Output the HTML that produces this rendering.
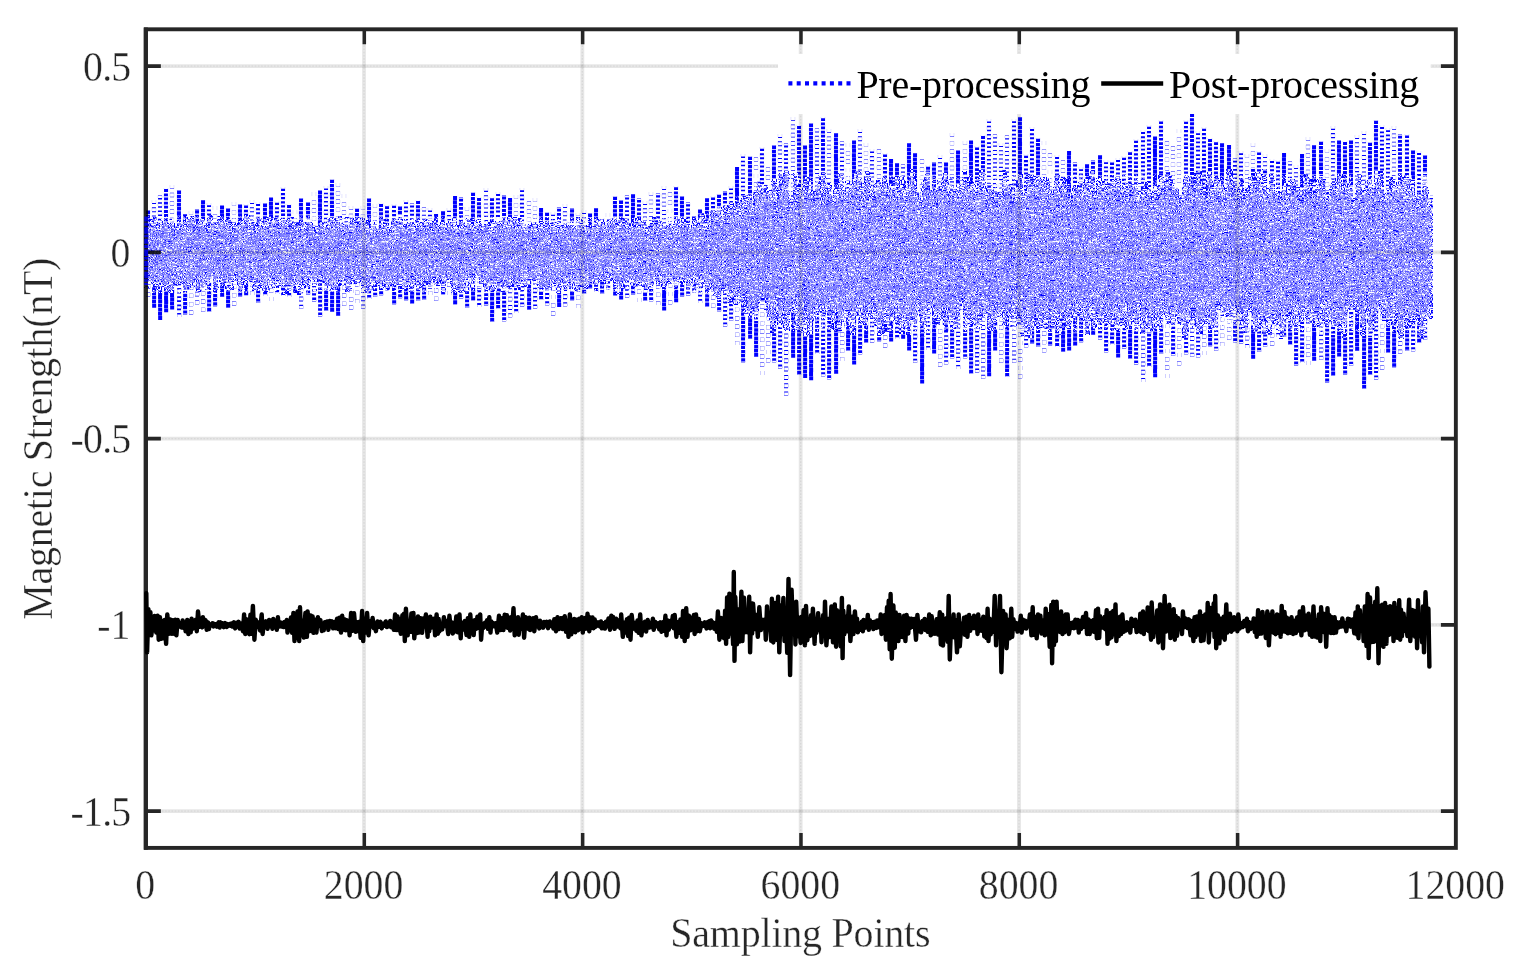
<!DOCTYPE html>
<html lang="en"><head><meta charset="utf-8"><title>Magnetic Strength - Pre-processing vs Post-processing</title>
<style>html,body{margin:0;padding:0;background:#fff;overflow:hidden}body{width:1518px;height:967px}.x path{mix-blend-mode:difference}.x .n{mix-blend-mode:normal}</style>
</head><body>
<svg width="1518" height="967" viewBox="0 0 1518 967" style="display:block">
<rect width="1518" height="967" fill="#fff"/>
<g stroke="#262626" stroke-opacity=".115" stroke-width="3.8" fill="none"><path d="M364.02 29.30V847.90M582.35 29.30V847.90M800.67 29.30V847.90M1019.00 29.30V847.90M1237.32 29.30V847.90"/><path d="M145.90 66.10H1455.85M145.90 252.35H1455.85M145.90 438.60H1455.85M145.90 624.85H1455.85M145.90 811.10H1455.85"/>
<g stroke-opacity=".07" stroke-width="1.3" stroke-dasharray="1.6 1.6"><path d="M364.02 29.30V847.90M582.35 29.30V847.90M800.67 29.30V847.90M1019.00 29.30V847.90M1237.32 29.30V847.90"/><path d="M145.90 66.10H1455.85M145.90 252.35H1455.85M145.90 438.60H1455.85M145.90 624.85H1455.85M145.90 811.10H1455.85"/></g></g>
<rect x="145.90" y="29.30" width="1309.95" height="818.60" fill="none" stroke="#262626" stroke-width="3.9"/>
<path d="M145.75 27.45V849.75" fill="none" stroke="#262626" stroke-width="4.2"/>
<path d="M364.32 847.90v-14.95M364.32 29.30v14.95M582.65 847.90v-14.95M582.65 29.30v14.95M800.97 847.90v-14.95M800.97 29.30v14.95M1019.30 847.90v-14.95M1019.30 29.30v14.95M1237.62 847.90v-14.95M1237.62 29.30v14.95" stroke="#262626" stroke-width="3.5" fill="none"/>
<path d="M145.90 66.10h14.95M1455.85 66.10h-14.95M145.90 252.35h14.95M1455.85 252.35h-14.95M145.90 438.60h14.95M1455.85 438.60h-14.95M145.90 624.85h14.95M1455.85 624.85h-14.95M145.90 811.10h14.95M1455.85 811.10h-14.95" stroke="#262626" stroke-width="3.9" fill="none"/>
<g class="x" fill="none" stroke="#ffff00" stroke-width="4" style="isolation:isolate;mix-blend-mode:multiply">
<rect x="140" y="100" width="1300" height="310" fill="#fff" stroke="none"/>
<g>
<path stroke-dasharray="4 4" d="M146 227v61m4 -10v-53m4 -6v58m4 12v-60m4 -4v61m5 2v-66m4 7v62m4 -15v-43m4 -11v54m4 7v-50m4 -5v62m5 -8v-66m4 15v45m4 16v-71m4 8v54m4 -4v-48m4 -8v50m4 19v-60m5 -12v52m4 7v-55m4 -7v74m4 -13v-51m4 -1v54m4 11v-63m4 -6v51m5 2v-50m4 3v54m4 -1v-63m4 12v47m4 7v-65m4 7v50m4 3v-51m5 1v54m4 -4v-52m4 2v64m4 -6v-59m4 1v47m4 8v-50m5 -12v56m4 8v-62m4 10v48m4 -3v-49m4 -10v57m4 2v-45m4 -8v56m5 0v-59m4 7v51m4 -6v-50m4 3v49m4 13v-55m4 -9v55m4 -2v-50m5 -7v56m4 1v-49m4 -3v55m4 0v-56m4 8v50m4 -2v-50m4 -4v59m5 -1v-54m4 -2v49m4 -1v-60m4 10v45m4 5v-46m4 -8v68m5 -17v-42m4 -6v51m4 3v-52m4 -7v58m4 -7v-43m4 1v44m4 5v-51m5 -4v60m4 -4v-60m4 9v62m4 -8v-58m4 6v55m4 -9v-44m4 -14v60m5 -8v-39m4 -11v53m4 6v-52m4 -3v62m4 -4v-56m4 4v44m4 14v-67m5 4v55m4 10v-68m4 1v54m4 -1v-61m4 10v49m4 6v-48m5 -8v56m4 -5v-52m4 6v46m4 4v-50m4 -2v57m4 -7v-49m4 3v43m5 -1v-53m4 11v53m4 -7v-49m4 -4v63m4 -7v-57m4 2v63m4 -4v-61m5 7v55m4 -8v-54m4 9v42m4 -2v-53m4 10v43m4 8v-60m4 9v41m5 5v-61m4 12v61m4 -13v-56m4 16v42m4 2v-48m4 -6v64m5 -4v-67m4 2v64m4 -6v-47m4 0v53m4 -6v-44m4 -14v53m4 4v-46m5 -8v53m4 -5v-39m4 -1v51m4 -2v-55m4 -1v57m4 3v-57m4 0v53m5 3v-62m4 -9v68m4 -2v-50m4 -7v56m4 6v-73m4 1v88m4 -7v-78m5 -10v75m4 8v-85m4 6v95m4 -9v-81m4 1v87m4 -9v-87m5 -9v118m4 -13v-108m4 0v104m4 -2v-110m4 13v115m4 19v-143m4 23v82m5 29v-140m4 -10v136m4 -1v-100m4 1v94m4 2v-102m4 -2v105m4 -7v-111m5 3v128m4 0v-125m4 -12v111m4 26v-122m4 -14v109m4 5v-102m4 0v115m5 -10v-108m4 8v104m4 7v-124m4 17v103m4 0v-125m4 -7v121m5 21v-134m4 -7v129m4 -8v-103m4 -12v143m4 -9v-116m4 -23v135m4 9v-138m5 6v120m4 1v-130m4 19v134m4 -17v-107m4 -24v128m4 -9v-124m4 24v95m5 17v-109m4 -33v136m4 -5v-101m4 3v100m4 17v-131m4 13v104m4 19v-149m5 16v117m4 -3v-115m4 5v107m4 -13v-105m4 17v121m4 -15v-131m5 21v126m4 -1v-149m4 16v114m4 5v-114m4 -3v134m4 -27v-109m4 12v93m5 1v-129m4 25v106m4 18v-124m4 -2v112m4 9v-134m4 27v101m4 24v-148m5 12v128m4 -10v-134m4 8v138m4 1v-133m4 -3v108m4 28v-139m4 23v103m5 -4v-121m4 7v128m4 -22v-108m4 -5v114m4 4v-116m4 2v118m5 22v-153m4 -6v121m4 14v-110m4 1v114m4 -22v-95m4 -3v119m4 -4v-127m5 3v132m4 -18v-92m4 -9v100m4 25v-122m4 -22v125m4 15v-126m4 -1v106m5 2v-120m4 27v107m4 -11v-108m4 -1v128m4 -10v-121m4 -10v134m4 1v-140m5 11v123m4 -4v-110m4 8v106m4 -3v-134m4 35v110m4 -10v-113m5 -26v160m4 -14v-113m4 -3v116m4 9v-138m4 12v112m4 -11v-116m4 7v120m5 -9v-127m4 6v127m4 -5v-112m4 8v101m4 16v-123m4 3v104m4 16v-131m5 -14v149m4 -5v-142m4 34v108m4 19v-135m4 -10v130m4 -12v-116m4 18v107m5 -9v-96m4 -17v123m4 -25v-109m4 24v100m4 -3v-98m4 -9v114m5 1v-122m4 7v124m4 -15v-117m4 -11v142m4 -17v-109m4 0v117m4 8v-128m5 -18v157m4 -20v-107m4 -11v115m4 4v-105m4 -15v106m4 19v-121m4 12v90m5 26v-137m4 21v114m4 -20v-121m4 30v98m4 10v-126m4 6v105m5 -12v-99m4 -11v150m4 -5v-143m4 6v122m4 7v-125m4 18v105m4 -11v-96m5 -6v123m4 -11v-108"/>
<path stroke-dasharray="4 5" stroke-dashoffset="0.15" d="M146 288v-54m4 -9v51m4 1v-60m5 12v61m4 -4v-62m4 -2v67m4 2v-68m4 10v43m4 0v-46m4 3v46m5 11v-65m4 -9v73m4 -13v-48m4 -7v57m4 5v-60m4 8v50m4 -8v-40m5 -1v48m4 -8v-46m4 -2v58m4 9v-64m4 0v50m4 3v-54m5 2v51m4 -6v-56m4 8v56m4 1v-54m4 -10v60m4 -1v-50m4 -8v72m5 -15v-54m4 6v53m4 2v-55m4 -1v49m4 17v-62m4 -3v57m4 -9v-46m5 4v53m4 -9v-57m4 3v58m4 0v-56m4 4v55m4 -8v-46m4 3v47m5 1v-50m4 -9v59m4 -1v-52m4 -4v57m4 -5v-48m4 6v56m5 -10v-61m4 9v50m4 -1v-60m4 12v63m4 -11v-54m4 -2v57m4 1v-49m5 -3v50m4 5v-59m4 4v53m4 -6v-56m4 -5v62m4 -7v-45m4 4v51m5 9v-61m4 2v47m4 -2v-48m4 -1v53m4 -2v-58m4 8v47m4 -2v-46m5 0v49m4 7v-51m4 -13v51m4 20v-64m4 -2v53m4 8v-65m5 12v45m4 1v-57m4 10v48m4 -6v-46m4 0v56m4 3v-63m4 3v52m5 -4v-47m4 -6v63m4 -4v-57m4 -1v62m4 -7v-61m4 -1v68m4 -9v-47m5 5v45m4 3v-54m4 -3v51m4 1v-46m4 0v55m4 0v-59m4 3v58m5 -12v-54m4 0v61m4 3v-59m4 3v54m4 5v-67m4 3v48m5 17v-59m4 -6v62m4 0v-60m4 -2v56m4 -5v-45m4 -10v55m4 -2v-40m5 -12v58m4 -8v-53m4 -3v65m4 8v-61m4 -8v58m4 0v-44m4 -2v47m5 11v-71m4 0v64m4 2v-54m4 1v49m4 4v-62m4 12v39m4 0v-52m5 10v54m4 -9v-51m4 7v45m4 5v-62m4 5v47m4 9v-57m5 3v53m4 0v-49m4 -10v63m4 -4v-59m4 7v56m4 -7v-67m4 0v80m5 9v-78m4 -7v74m4 -9v-74m4 -3v97m4 4v-93m4 3v82m4 6v-88m5 -8v88m4 21v-109m4 -12v130m4 -26v-114m4 2v108m4 20v-102m4 -22v137m5 -32v-84m4 -27v121m4 5v-122m4 21v94m4 1v-110m4 10v126m5 -23v-108m4 -10v126m4 5v-119m4 -6v116m4 -17v-113m4 17v113m4 -18v-98m5 1v113m4 2v-108m4 -10v139m4 -27v-107m4 -10v121m4 -1v-105m4 -20v128m5 -14v-111m4 -2v121m4 1v-134m4 23v103m4 28v-141m4 16v117m4 -5v-108m5 -21v145m4 -19v-124m4 -5v119m4 34v-142m4 18v103m4 1v-110m5 -23v131m4 -12v-110m4 18v99m4 4v-132m4 26v97m4 6v-102m4 -12v120m5 -3v-113m4 -17v134m4 -1v-137m4 19v133m4 -21v-120m4 2v104m4 34v-135m5 -11v120m4 27v-125m4 -25v125m4 5v-137m4 28v92m4 39v-123m4 -13v101m5 4v-106m4 -22v132m4 -1v-117m4 11v100m4 10v-109m4 -16v120m5 8v-105m4 -19v152m4 -12v-145m4 1v126m4 20v-148m4 16v124m4 -19v-93m5 -18v111m4 15v-121m4 -4v102m4 33v-129m4 -1v101m4 8v-117m4 5v112m5 8v-131m4 0v123m4 -8v-126m4 30v100m4 15v-127m4 10v114m4 2v-115m5 -16v121m4 14v-126m4 16v97m4 -6v-100m4 3v119m4 -16v-118m5 7v117m4 -12v-92m4 -26v122m4 12v-113m4 -6v102m4 25v-124m4 -7v115m5 9v-137m4 -2v126m4 8v-115m4 1v119m4 -5v-117m4 -20v122m4 23v-131m5 8v108m4 26v-147m4 20v96m4 17v-140m4 11v120m4 4v-124m4 -3v119m5 8v-102m4 -34v127m4 6v-119m4 2v108m4 1v-104m4 -3v121m5 -14v-106m4 -9v130m4 5v-146m4 -1v149m4 -7v-125m4 9v119m4 1v-125m5 -3v108m4 17v-127m4 22v87m4 19v-118m4 -16v119m4 5v-100m4 -1v102m5 3v-128m4 7v111m4 20v-118m4 -14v113m4 18v-142m4 16v116m4 1v-122m5 2v113m4 26v-140m4 13v107m4 -3v-109m4 8v96m4 -5v-98m5 -4v123m4 -21v-93m4 -18v120m4 15v-116m4 -25v120m4 8v-107m4 -9v117m5 -6v-110m4 -1v114m4 25v-147m4 -1v122m4 6v-103m4 -15v127m4 -4v-120m5 13v89m4 28v-147m4 28v98"/>
<path stroke-dasharray="3 4" d="M146 234v49m4 -7v-53m5 -6v70m4 3v-64m4 -2v58m4 7v-62m4 -4v59m4 -6v-45m5 -1v44m4 5v-53m4 -1v63m4 1v-67m4 6v50m4 0v-49m4 -6v51m5 7v-46m4 -2v46m4 1v-47m4 -7v57m4 -1v-54m4 -1v61m4 -11v-55m5 4v58m4 -5v-55m4 -7v65m4 -1v-49m4 -4v63m4 -13v-60m4 9v50m5 14v-69m4 0v62m4 -3v-53m4 0v56m4 -8v-48m4 3v58m5 -4v-68m4 13v56m4 1v-61m4 -5v65m4 -4v-63m4 7v48m4 11v-56m5 2v46m4 4v-47m4 -2v52m4 -2v-56m4 3v55m4 -2v-54m4 1v49m5 13v-57m4 -14v60m4 -1v-51m4 -10v63m4 12v-69m4 4v62m4 -7v-48m5 0v45m4 2v-63m4 9v50m4 7v-56m4 -6v57m4 0v-56m5 4v48m4 7v-60m4 8v60m4 -11v-57m4 7v52m4 0v-55m4 -5v58m5 -3v-48m4 0v56m4 -7v-52m4 8v45m4 -7v-43m4 -1v65m4 -14v-46m5 -11v71m4 -14v-46m4 -10v59m4 -1v-59m4 7v43m4 13v-52m4 -8v61m5 -6v-48m4 -3v58m4 -1v-61m4 0v67m4 -6v-61m4 -7v69m5 -2v-57m4 1v55m4 -5v-57m4 6v58m4 -10v-49m4 4v46m4 9v-61m5 2v59m4 2v-56m4 -10v56m4 5v-48m4 -8v53m4 4v-52m4 -10v55m5 -4v-47m4 5v58m4 -2v-58m4 -2v62m4 -8v-47m4 -3v40m4 5v-54m5 12v48m4 -2v-55m4 -6v55m4 7v-62m4 9v55m4 -5v-56m5 12v44m4 1v-50m4 -10v62m4 2v-61m4 9v57m4 -7v-46m4 -12v55m5 -4v-41m4 -11v52m4 12v-54m4 -6v53m4 -1v-54m4 -3v56m4 -4v-49m5 1v53m4 3v-50m4 1v42m4 11v-57m4 -6v58m4 5v-59m4 -15v67m5 13v-79m4 10v56m4 11v-80m4 -3v83m4 11v-90m4 1v91m5 -6v-82m4 0v79m4 1v-87m4 -1v93m4 25v-111m4 -29v105m4 5v-105m5 23v87m4 28v-146m4 30v88m4 6v-122m4 5v140m4 -25v-97m4 -12v103m5 33v-138m4 7v134m4 -18v-128m4 14v133m4 -23v-111m4 -19v123m4 7v-114m5 -2v114m4 0v-120m4 14v106m4 23v-149m4 15v118m4 -7v-128m5 22v110m4 -2v-128m4 3v124m4 -5v-104m4 -29v139m4 -13v-91m4 -22v120m5 13v-131m4 18v103m4 21v-136m4 -7v119m4 -5v-105m4 -3v134m4 -13v-128m5 19v108m4 0v-115m4 -7v113m4 4v-111m4 -17v128m4 -5v-113m4 17v100m5 8v-110m4 -6v103m4 14v-125m4 -13v148m4 4v-142m4 1v111m5 -5v-111m4 10v133m4 -24v-114m4 16v113m4 -13v-118m4 -14v124m4 -4v-88m5 4v95m4 -7v-104m4 2v117m4 -7v-136m4 18v130m4 -19v-95m4 -4v118m5 -14v-106m4 9v113m4 20v-164m4 7v115m4 12v-107m4 -21v129m4 11v-141m5 29v107m4 -14v-110m4 4v123m4 -25v-116m4 20v130m4 -30v-94m5 -15v110m4 7v-123m4 0v122m4 1v-93m4 -41v127m4 3v-92m4 -20v121m5 3v-130m4 17v124m4 -19v-108m4 -4v116m4 -3v-94m4 -12v103m4 19v-124m5 -10v105m4 19v-115m4 11v99m4 -3v-101m4 0v115m4 -19v-90m4 -9v114m5 -6v-117m4 -11v128m4 -4v-129m4 22v115m4 5v-108m4 -14v132m5 -30v-116m4 8v129m4 -13v-132m4 11v145m4 -29v-87m4 -36v140m4 -9v-108m5 -12v115m4 1v-106m4 12v106m4 -13v-136m4 23v116m4 -6v-112m4 9v99m5 19v-106m4 -14v105m4 16v-124m4 -17v139m4 9v-145m4 13v108m4 20v-128m5 4v105m4 0v-108m4 -2v111m4 -2v-90m4 -9v107m4 -4v-108m5 13v111m4 -10v-110m4 -15v136m4 -18v-100m4 2v117m4 -18v-121m4 -3v127m5 5v-114m4 -7v145m4 -30v-105m4 -9v135m4 -15v-125m4 13v94m4 10v-105m5 2v96m4 23v-128m4 14v93m4 9v-104m4 3v108m4 -13v-107m4 8v114m5 -6v-100m4 -16v124m4 -11v-99m4 -23v126m4 -5v-130m4 33v84m5 28v-141m4 17v124m4 -22v-105m4 -14v129m4 -3v-107"/>
<path stroke-dasharray="4 4.3" d="M147 283v-55m4 -5v56m4 8v-58m4 -3v51m4 5v-58m4 3v64m4 -9v-56m5 5v51m4 -8v-45m4 -3v59m4 3v-61m4 -5v59m4 -3v-55m4 6v57m5 -12v-43m4 4v42m4 2v-56m4 10v55m4 -5v-55m4 0v58m5 2v-69m4 3v53m4 9v-60m4 0v55m4 3v-66m4 16v40m4 19v-59m5 -14v58m4 1v-45m4 -10v61m4 1v-55m4 -1v54m4 2v-62m4 6v49m5 12v-55m4 -17v61m4 8v-59m4 -1v62m4 -2v-60m4 -7v58m4 -3v-47m5 2v53m4 -5v-52m4 9v46m4 4v-54m4 -4v65m4 -7v-56m5 0v59m4 -9v-56m4 12v47m4 -1v-61m4 9v49m4 4v-58m4 1v63m5 3v-59m4 4v46m4 -1v-50m4 -11v62m4 -3v-44m4 -5v51m4 0v-53m5 -3v53m4 -1v-49m4 -4v53m4 15v-64m4 -4v56m4 3v-57m4 2v58m5 -5v-51m4 0v48m4 8v-60m4 1v49m4 4v-44m4 -6v44m5 20v-75m4 15v51m4 9v-64m4 4v57m4 -8v-52m4 -8v56m4 -6v-46m5 7v41m4 12v-56m4 2v48m4 7v-61m4 -1v69m4 -2v-65m4 -2v54m5 8v-70m4 11v51m4 5v-66m4 4v60m4 4v-54m4 -5v51m4 -1v-44m5 -8v52m4 9v-59m4 5v48m4 -2v-48m4 5v44m4 1v-54m5 6v57m4 -12v-52m4 1v55m4 8v-73m4 13v50m4 10v-55m4 0v46m5 -9v-41m4 -8v60m4 0v-47m4 -10v50m4 -1v-46m4 -9v60m4 4v-52m5 -9v56m4 0v-47m4 -2v56m4 -4v-63m4 4v61m4 5v-59m4 6v48m5 -5v-45m4 0v45m4 -4v-51m4 9v40m4 7v-55m4 0v59m5 -6v-48m4 -5v54m4 0v-50m4 3v48m4 -5v-45m4 -1v49m4 3v-66m5 12v54m4 -2v-64m4 -2v87m4 -21v-65m4 -4v72m4 8v-76m4 -3v88m5 4v-85m4 -3v77m4 2v-98m4 12v106m4 -14v-79m4 -7v99m4 -23v-89m5 -11v110m4 0v-110m4 -8v121m4 -3v-103m4 -13v123m4 22v-150m5 28v106m4 -15v-91m4 -14v114m4 27v-122m4 -24v151m4 -4v-132m4 -2v112m5 -8v-109m4 2v100m4 12v-119m4 -1v127m4 -7v-119m4 -7v148m4 -15v-105m5 -30v129m4 3v-108m4 -22v134m4 -7v-102m4 -7v121m4 -11v-134m4 30v102m5 -4v-112m4 -6v135m4 -14v-127m4 12v138m4 -26v-111m4 1v105m5 26v-150m4 9v121m4 6v-105m4 -10v125m4 -19v-112m4 5v119m4 -8v-115m5 -3v107m4 10v-100m4 -2v120m4 -23v-102m4 -9v124m4 11v-125m4 -13v140m5 -28v-99m4 -17v108m4 35v-149m4 11v112m4 17v-122m4 -9v122m4 -12v-108m5 16v110m4 -11v-99m4 -12v111m4 8v-116m4 -27v157m4 -9v-125m5 11v93m4 21v-129m4 9v138m4 -16v-107m4 -37v141m4 -19v-111m4 16v106m5 2v-128m4 -2v138m4 -2v-109m4 -15v115m4 12v-103m4 -38v119m4 31v-133m5 9v111m4 -16v-96m4 -20v120m4 2v-96m4 4v100m4 -14v-125m4 36v102m5 -1v-117m4 -10v111m4 30v-127m4 0v101m4 11v-132m4 35v109m5 -18v-103m4 -2v119m4 -24v-106m4 10v129m4 -19v-111m4 7v106m4 9v-104m5 -5v103m4 2v-105m4 -18v101m4 16v-131m4 -2v120m4 17v-112m4 9v115m5 3v-140m4 -6v142m4 -5v-109m4 -36v141m4 15v-140m4 24v101m4 3v-117m5 0v107m4 -4v-109m4 4v97m4 21v-103m4 -46v139m4 0v-107m5 -11v129m4 -21v-118m4 31v118m4 -27v-123m4 15v124m4 -2v-135m4 -1v148m5 -27v-107m4 -1v111m4 -2v-95m4 -13v131m4 -22v-103m4 11v111m4 -13v-106m5 -6v118m4 6v-132m4 12v108m4 13v-131m4 13v105m4 14v-124m4 -15v115m5 9v-110m4 1v103m4 35v-140m4 5v127m4 -1v-137m4 -3v127m5 -20v-105m4 10v107m4 -9v-117m4 12v144m4 -37v-107m4 12v133m4 -22v-127m5 7v112m4 10v-105m4 -1v104m4 4v-141m4 31v88m4 15v-120m4 -15v124m5 -7v-83m4 -30v136m4 5v-123m4 -4v104m4 11v-129m4 19v119"/>
<path stroke-dasharray="5 3" d="M147 228v57m4 -6v-55m4 5v53m4 -5v-48m4 -5v61m5 6v-62m4 -3v65m4 -9v-52m4 -1v43m4 13v-59m4 1v58m4 -4v-65m5 7v56m4 7v-68m4 13v47m4 -1v-61m4 7v56m4 9v-65m4 5v46m5 12v-57m4 -10v69m4 -13v-44m4 -7v61m4 -6v-57m4 -6v66m4 -10v-47m5 7v61m4 -17v-49m4 5v48m4 3v-53m4 -1v44m4 9v-65m5 5v53m4 2v-47m4 4v56m4 -12v-48m4 -3v53m4 8v-61m4 -1v55m5 -4v-55m4 5v55m4 0v-59m4 2v51m4 4v-54m4 4v58m4 3v-71m5 8v51m4 8v-53m4 -12v59m4 0v-53m4 -9v59m4 -1v-46m4 -8v57m5 7v-65m4 9v48m4 2v-46m4 -5v51m4 0v-52m4 5v57m5 -11v-49m4 -4v49m4 1v-49m4 -1v62m4 -13v-53m4 4v58m4 -6v-53m5 -1v63m4 -3v-57m4 1v57m4 -9v-52m4 0v50m4 0v-51m4 11v45m5 -7v-45m4 -10v64m4 2v-51m4 -4v62m4 -1v-61m4 1v54m4 -6v-53m5 1v51m4 -3v-46m4 2v53m4 -3v-52m4 -2v57m4 11v-70m5 3v65m4 -13v-60m4 -2v63m4 -1v-54m4 -7v68m4 -4v-56m4 6v45m5 1v-45m4 0v42m4 2v-47m4 -3v62m4 -9v-57m4 7v56m4 -7v-47m5 -6v53m4 10v-60m4 -4v65m4 -9v-52m4 -13v69m4 -6v-53m4 8v52m5 -6v-54m4 4v46m4 6v-60m4 13v46m4 -6v-46m4 -1v48m5 3v-57m4 9v57m4 -10v-51m4 4v51m4 3v-59m4 -8v72m4 -7v-58m5 4v63m4 -9v-51m4 1v50m4 -5v-54m4 -1v51m4 -2v-44m4 -4v52m5 7v-56m4 2v54m4 -5v-54m4 4v54m4 -3v-53m4 3v50m4 -2v-55m5 -8v68m4 -2v-52m4 -14v71m4 14v-88m4 2v69m4 -1v-74m5 6v74m4 11v-92m4 11v88m4 -14v-90m4 -6v96m4 22v-107m4 14v83m5 9v-119m4 7v88m4 11v-110m4 0v129m4 -16v-121m4 15v110m4 0v-133m5 5v146m4 -12v-117m4 11v109m4 -9v-101m4 6v125m4 2v-134m4 -2v112m5 -2v-106m4 -11v111m4 -9v-93m4 -14v118m4 8v-116m4 -10v132m5 9v-131m4 11v93m4 6v-112m4 7v106m4 6v-145m4 36v99m4 15v-121m5 -24v121m4 11v-112m4 -4v129m4 0v-130m4 -11v122m4 28v-136m4 -1v105m5 1v-103m4 -21v138m4 -8v-96m4 -3v104m4 11v-117m4 -14v111m4 13v-105m5 -18v102m4 2v-107m4 17v112m4 6v-146m4 21v122m4 -7v-115m5 1v117m4 10v-131m4 4v110m4 -19v-95m4 -19v120m4 3v-113m4 8v119m5 -6v-123m4 3v129m4 -3v-135m4 25v112m4 -13v-108m4 0v120m4 10v-136m5 2v117m4 -13v-91m4 -17v140m4 7v-140m4 17v105m4 -1v-140m4 10v117m5 5v-112m4 -14v140m4 -4v-118m4 7v108m4 -8v-119m4 28v117m5 -36v-113m4 11v134m4 -14v-115m4 3v96m4 4v-102m4 8v96m4 8v-103m5 -36v133m4 5v-122m4 4v124m4 -23v-100m4 3v126m4 -25v-118m4 -3v151m5 -7v-119m4 -2v99m4 18v-119m4 -11v111m4 28v-127m4 -3v138m4 -25v-121m5 26v91m4 7v-120m4 17v103m4 -20v-103m4 -12v128m4 -10v-110m5 15v110m4 14v-110m4 -27v151m4 -15v-143m4 29v85m4 20v-134m4 9v122m5 3v-122m4 8v111m4 -4v-105m4 -8v115m4 -14v-116m4 34v102m4 -9v-137m5 30v94m4 24v-123m4 -16v135m4 14v-134m4 -16v135m4 4v-124m4 -13v124m5 23v-131m4 -3v119m4 -9v-125m4 28v100m4 18v-121m4 -4v122m5 0v-120m4 1v97m4 15v-126m4 0v126m4 -6v-109m4 -9v135m4 -17v-109m5 -1v110m4 -10v-120m4 19v117m4 -13v-95m4 -10v124m4 8v-149m4 11v118m5 6v-109m4 -16v118m4 -1v-96m4 -30v130m4 26v-130m4 -14v114m4 31v-137m5 -12v128m4 -9v-113m4 18v93m4 10v-115m4 -22v138m4 -19v-109m5 4v146m4 -37v-124m4 34v103m4 3v-115m4 -3v109m4 -9v-102m4 -16v125m5 13v-113"/>
<path stroke-dasharray="4 3" stroke-dashoffset="0.15" d="M147 285v-50m4 -11v54m4 4v-60m4 7v54m5 2v-59m4 3v56m4 6v-63m4 2v56m4 -14v-45m4 -1v51m4 8v-66m5 -3v73m4 -10v-52m4 -9v67m4 -7v-50m4 -12v56m4 7v-56m5 0v56m4 -5v-54m4 9v54m4 5v-61m4 4v48m4 6v-54m4 -9v55m5 5v-59m4 2v60m4 8v-63m4 -3v53m4 0v-49m4 -1v61m4 -18v-52m5 -4v60m4 -2v-49m4 4v55m4 5v-62m4 2v60m4 -10v-50m4 -3v57m5 -3v-50m4 -9v53m4 7v-48m4 -11v55m4 -2v-48m4 -2v51m5 11v-67m4 -1v69m4 -10v-58m4 13v45m4 2v-65m4 12v54m4 -4v-54m5 7v50m4 -1v-56m4 -2v57m4 0v-47m4 3v46m4 0v-52m4 0v49m5 13v-59m4 -1v47m4 -2v-47m4 -1v48m4 13v-54m4 -12v62m4 0v-60m5 1v51m4 11v-64m4 4v52m4 6v-56m4 -5v50m4 0v-47m5 -4v54m4 2v-52m4 0v44m4 10v-55m4 6v59m4 -1v-68m4 6v48m5 7v-53m4 -6v49m4 3v-52m4 3v47m4 8v-57m4 2v63m4 -8v-51m5 -8v59m4 9v-66m4 -7v69m4 -8v-60m4 5v62m4 -1v-56m4 -4v55m5 -4v-45m4 1v42m4 0v-42m4 -3v61m4 -2v-54m4 -12v67m5 -4v-55m4 1v61m4 -14v-44m4 -6v47m4 14v-64m4 3v45m4 11v-66m5 7v54m4 6v-53m4 -7v56m4 -6v-51m4 -3v60m4 -1v-52m4 0v49m5 -2v-49m4 -5v62m4 4v-67m4 6v55m4 0v-51m4 -5v55m4 9v-65m5 0v58m4 9v-62m4 2v55m4 -4v-57m4 -2v57m4 -7v-48m5 2v45m4 3v-53m4 4v51m4 5v-58m4 -1v57m4 1v-50m4 -6v60m5 -7v-50m4 -7v52m4 8v-62m4 8v53m4 4v-74m4 0v73m4 -2v-74m5 -1v77m4 3v-65m4 -16v91m4 8v-101m4 -3v95m4 -5v-87m4 2v90m5 7v-82m4 -28v121m4 -26v-82m4 -17v107m4 22v-128m4 -9v127m5 -2v-93m4 -40v132m4 19v-150m4 21v114m4 6v-116m4 6v124m4 7v-137m5 5v118m4 -8v-122m4 14v91m4 9v-122m4 20v104m4 0v-102m4 -6v95m5 27v-126m4 4v136m4 -32v-96m4 -10v115m4 -2v-130m4 -9v126m4 9v-93m5 -13v118m4 -21v-86m4 -15v111m4 14v-139m4 9v117m4 -6v-120m5 12v119m4 -15v-108m4 6v106m4 11v-114m4 10v102m4 -1v-111m4 5v119m5 -22v-109m4 17v109m4 -25v-123m4 18v103m4 26v-127m4 -13v128m4 15v-131m5 9v115m4 3v-118m4 -3v104m4 10v-122m4 8v96m4 5v-110m4 0v125m5 2v-123m4 -6v121m4 11v-118m4 -20v123m4 14v-111m4 -10v115m5 5v-118m4 -8v124m4 -5v-124m4 20v112m4 11v-147m4 14v130m4 -8v-118m5 -23v152m4 -25v-117m4 10v119m4 7v-138m4 16v122m4 -7v-120m4 -7v114m5 31v-125m4 -24v129m4 16v-128m4 -1v113m4 -14v-105m4 7v104m4 0v-107m5 12v113m4 -16v-119m4 2v119m4 9v-123m4 0v99m4 30v-141m5 -2v136m4 12v-139m4 13v124m4 -27v-104m4 3v108m4 -8v-112m4 13v116m5 19v-146m4 0v118m4 -1v-110m4 -3v102m4 18v-119m4 -4v105m4 11v-133m5 13v120m4 5v-120m4 24v101m4 23v-133m4 -25v123m4 -9v-107m4 -7v135m5 -4v-136m4 17v105m4 14v-139m4 30v127m4 -20v-131m4 1v121m5 15v-105m4 -41v140m4 -16v-93m4 -6v129m4 -10v-115m4 -5v137m4 -18v-125m5 5v121m4 -10v-94m4 -14v117m4 -1v-112m4 -22v128m4 0v-114m4 11v97m5 21v-126m4 6v110m4 -12v-99m4 -12v109m4 17v-105m4 -10v116m4 10v-124m5 -2v123m4 -14v-110m4 -20v135m4 1v-113m4 5v102m4 12v-128m5 -13v128m4 1v-114m4 11v95m4 7v-107m4 10v90m4 10v-131m4 27v131m5 -31v-105m4 -1v130m4 -14v-119m4 -3v105m4 6v-113m4 8v106m4 10v-126m5 -2v120m4 30v-147m4 -14v140m4 -3v-112m4 0v103m4 3v-110m4 -1v113m5 -4v-134m4 34v113"/>
<path stroke-dasharray="3 5" d="M147 235v53m4 -10v-45m5 -11v61m4 0v-55m4 -2v61m4 -2v-60m4 3v61m4 -3v-53m4 -6v51m5 -1v-45m4 -13v58m4 12v-71m4 9v55m4 3v-65m4 8v51m4 -7v-46m5 -3v53m4 3v-60m4 1v53m4 10v-60m4 4v59m4 -7v-56m4 8v54m5 -8v-58m4 4v54m4 8v-61m4 6v52m4 -2v-54m4 5v54m5 6v-72m4 2v60m4 -4v-55m4 4v60m4 -1v-66m4 9v59m4 3v-68m5 8v48m4 6v-56m4 3v55m4 -11v-53m4 12v41m4 3v-45m4 -5v52m5 -3v-44m4 -12v60m4 8v-71m4 3v57m4 1v-45m4 -18v70m4 -4v-54m5 -4v59m4 -2v-57m4 0v56m4 -1v-58m4 11v47m4 2v-46m5 -6v51m4 -2v-54m4 8v55m4 -9v-53m4 4v58m4 -11v-61m4 20v53m5 -3v-62m4 2v53m4 -1v-46m4 -7v54m4 2v-60m4 10v50m4 -5v-54m5 7v55m4 -5v-57m4 7v43m4 1v-46m4 1v61m4 4v-58m4 -11v69m5 -15v-44m4 -2v48m4 -5v-45m4 -4v65m4 -15v-49m4 0v64m5 1v-56m4 -3v48m4 3v-61m4 4v56m4 6v-60m4 -8v57m4 10v-66m5 9v46m4 5v-49m4 0v49m4 -6v-45m4 3v47m4 11v-68m4 12v53m5 2v-62m4 3v44m4 18v-61m4 3v51m4 -10v-51m4 1v56m4 -8v-46m5 -9v59m4 2v-55m4 8v42m4 7v-57m4 0v53m4 4v-57m5 4v45m4 4v-51m4 0v54m4 3v-56m4 -7v66m4 -5v-57m4 6v41m5 9v-46m4 -10v59m4 -1v-59m4 6v54m4 3v-59m4 -2v54m4 1v-47m5 -8v50m4 -3v-45m4 -5v61m4 -6v-44m4 -9v58m4 -2v-52m4 3v48m5 6v-59m4 2v47m4 -2v-45m4 -9v63m4 -2v-53m4 -17v69m5 4v-59m4 -17v70m4 6v-71m4 9v75m4 0v-94m4 1v87m4 5v-91m5 -1v89m4 3v-87m4 12v80m4 13v-121m4 13v90m4 0v-111m4 5v124m5 -6v-104m4 9v85m4 7v-109m4 -22v150m4 -15v-96m4 -14v100m4 30v-137m5 7v120m4 3v-124m4 -6v131m4 -26v-103m4 -10v129m4 -5v-100m5 -2v104m4 -15v-99m4 0v109m4 31v-163m4 35v103m4 2v-121m4 -11v154m5 -37v-118m4 34v101m4 4v-126m4 19v104m4 -8v-109m4 -16v124m4 2v-121m5 -5v117m4 14v-113m4 -10v113m4 -1v-105m4 2v112m4 0v-116m4 4v112m5 12v-134m4 3v98m4 28v-130m4 -18v128m4 -7v-81m4 -20v127m5 -12v-127m4 11v123m4 1v-106m4 -9v106m4 -5v-110m4 -2v109m4 -5v-121m5 16v120m4 5v-130m4 9v120m4 -5v-137m4 30v102m4 1v-103m4 6v97m5 8v-114m4 1v112m4 4v-130m4 1v131m4 1v-112m4 -24v146m4 -2v-121m5 -5v104m4 25v-146m4 4v108m4 21v-133m4 2v117m4 21v-141m5 14v119m4 -12v-122m4 28v131m4 -26v-131m4 19v110m4 2v-113m4 -6v116m5 -5v-118m4 11v124m4 1v-122m4 -13v110m4 11v-109m4 -5v121m4 -22v-96m5 -15v141m4 -7v-130m4 3v133m4 4v-120m4 -11v111m4 0v-107m4 -13v125m5 4v-132m4 5v127m4 -9v-107m4 -4v109m4 -10v-84m4 -17v131m5 -30v-103m4 -19v142m4 -9v-109m4 -6v110m4 15v-109m4 -1v116m4 -18v-125m5 9v126m4 2v-132m4 -8v159m4 -37v-100m4 -25v136m4 21v-142m4 -9v121m5 1v-101m4 11v104m4 -5v-123m4 14v114m4 9v-122m4 -3v108m4 24v-136m5 -7v106m4 20v-122m4 18v103m4 0v-116m4 3v113m4 -7v-131m5 17v119m4 -11v-88m4 -17v126m4 -10v-111m4 0v104m4 -7v-101m4 13v113m5 -7v-132m4 18v109m4 12v-128m4 4v128m4 -13v-137m4 25v118m4 -11v-96m5 -20v134m4 -19v-112m4 -1v123m4 -17v-93m4 -7v104m4 -4v-100m4 -21v124m5 34v-135m4 -1v101m4 28v-145m4 12v122m4 -20v-119m4 12v112m5 2v-105m4 -11v110m4 8v-122m4 5v140m4 -14v-140m4 25v104m4 -1v-94m5 -13v113m4 -1v-96m4 -42v146m4 1v-112"/>
<path stroke-dasharray="4 4" stroke-dashoffset="0.2" d="M147 288v-57m5 2v52m4 -2v-52m4 -3v48m4 11v-66m4 4v56m4 8v-66m4 10v43m5 2v-51m4 5v53m4 -8v-59m4 0v70m4 -6v-58m4 -4v60m5 -1v-56m4 3v50m4 0v-53m4 -4v61m4 -7v-46m4 -4v57m4 6v-51m5 -12v49m4 13v-56m4 -10v58m4 0v-57m4 4v58m4 0v-51m4 -5v48m5 11v-56m4 -10v59m4 3v-61m4 2v61m4 3v-53m4 -14v64m4 4v-61m5 -4v67m4 -11v-57m4 7v54m4 4v-56m4 -8v54m4 -1v-42m5 0v41m4 6v-54m4 7v58m4 -10v-51m4 -12v73m4 -13v-60m4 16v44m5 8v-69m4 11v45m4 10v-53m4 -6v57m4 -1v-62m4 3v69m4 -11v-49m5 5v45m4 0v-54m4 -2v51m4 12v-59m4 -3v58m4 4v-68m4 -4v57m5 16v-63m4 -2v53m4 2v-46m4 -1v50m4 -3v-45m4 -13v60m5 0v-61m4 2v57m4 5v-51m4 -11v59m4 -9v-44m4 -1v54m4 8v-61m5 7v56m4 2v-70m4 11v47m4 -1v-55m4 5v46m4 15v-66m4 2v53m5 11v-66m4 11v51m4 -6v-54m4 -4v59m4 1v-64m4 10v58m4 -9v-51m5 -5v55m4 0v-52m4 8v55m4 -6v-54m4 3v49m4 1v-56m5 -1v58m4 7v-53m4 -7v60m4 -13v-45m4 2v52m4 2v-61m4 0v47m5 10v-55m4 1v58m4 -8v-49m4 -4v57m4 -7v-43m4 -7v59m4 -6v-46m5 -7v48m4 1v-47m4 0v44m4 10v-58m4 5v57m4 2v-55m4 -7v54m5 -7v-39m4 2v40m4 9v-60m4 0v58m4 2v-49m4 -7v58m5 -6v-60m4 14v47m4 -5v-43m4 -5v51m4 5v-59m4 9v51m4 -2v-65m5 11v43m4 8v-58m4 5v55m4 -6v-59m4 12v55m4 -1v-69m4 14v62m5 -10v-68m4 13v71m4 -18v-70m4 5v70m4 14v-83m4 -11v83m4 5v-75m5 -11v83m4 5v-92m4 8v101m4 -9v-90m4 -18v114m4 -11v-105m5 -6v125m4 4v-121m4 11v98m4 -4v-96m4 -6v104m4 24v-155m4 44v100m5 -14v-117m4 10v130m4 -3v-125m4 4v114m4 11v-130m4 1v116m4 3v-123m5 18v91m4 11v-128m4 14v115m4 -6v-113m4 -19v154m4 -16v-107m4 -12v128m5 15v-148m4 -7v129m4 6v-124m4 2v124m4 -1v-115m4 -2v115m5 -7v-127m4 8v131m4 -19v-98m4 -1v108m4 -5v-100m4 -6v94m4 20v-124m5 8v128m4 -12v-133m4 11v113m4 -12v-98m4 -4v148m4 -38v-113m4 25v89m5 18v-124m4 -15v138m4 -4v-119m4 14v113m4 -16v-131m4 16v112m4 -5v-95m5 -31v141m4 -5v-102m4 -23v138m4 -9v-115m4 -27v140m4 -8v-109m5 7v110m4 -7v-95m4 -11v122m4 -9v-110m4 -16v142m4 -10v-126m4 15v96m5 26v-127m4 4v133m4 -34v-108m4 -13v137m4 -25v-107m4 -5v129m4 -10v-123m5 3v141m4 -8v-124m4 -10v132m4 27v-138m4 -19v141m4 -12v-102m4 -9v119m5 -9v-121m4 -2v121m4 14v-126m4 5v120m4 -23v-109m4 11v112m5 4v-127m4 9v111m4 15v-134m4 -3v119m4 17v-130m4 14v106m4 -6v-118m5 11v115m4 -3v-116m4 -12v117m4 15v-109m4 -7v124m4 -19v-101m4 7v80m5 34v-136m4 3v116m4 7v-131m4 13v123m4 -19v-113m4 19v107m4 8v-119m5 -24v129m4 6v-113m4 -17v147m4 4v-146m4 9v127m4 -16v-114m5 -7v135m4 -23v-103m4 3v117m4 -2v-120m4 -8v117m4 11v-124m4 11v123m5 -18v-105m4 -7v102m4 -3v-111m4 9v133m4 -12v-111m4 -5v118m4 -2v-105m5 -33v131m4 5v-105m4 6v97m4 12v-121m4 0v124m4 -20v-124m4 16v109m5 17v-126m4 -13v117m4 10v-109m4 -7v121m4 11v-139m4 -11v117m5 26v-126m4 19v111m4 3v-145m4 14v131m4 -9v-125m4 15v92m4 5v-98m5 -6v99m4 4v-130m4 29v123m4 -23v-121m4 4v149m4 -15v-130m4 -9v130m5 -6v-96m4 -7v119m4 -20v-103m4 -11v125m4 20v-144m4 -10v150m4 -21v-111m5 16v108m4 -8v-108m4 11v104m4 0v-123m4 12v95"/>
<path stroke-dasharray="5 4" d="M148 231v49m4 5v-57m4 3v44m4 1v-47m4 -8v62m4 -2v-47m5 -11v65m4 -12v-46m4 -3v55m4 3v-64m4 -3v67m4 3v-73m4 9v55m5 1v-52m4 -5v57m4 -4v-61m4 8v52m4 5v-54m4 1v56m4 -3v-48m5 3v45m4 -8v-48m4 5v50m4 -2v-52m4 -5v57m4 5v-51m4 0v60m5 -17v-50m4 5v62m4 -13v-54m4 -4v58m4 5v-63m4 13v48m5 2v-65m4 8v61m4 2v-59m4 -9v63m4 -2v-52m4 0v54m4 -8v-54m5 11v49m4 -8v-48m4 0v56m4 9v-56m4 -5v58m4 3v-68m4 -5v64m5 -4v-54m4 -7v72m4 -16v-51m4 8v54m4 -3v-54m4 -9v72m4 0v-61m5 1v47m4 3v-52m4 -2v60m4 -11v-46m4 -1v57m4 -2v-58m5 -6v67m4 -14v-53m4 6v64m4 -13v-51m4 7v49m4 0v-61m4 13v52m5 -5v-57m4 -4v75m4 -16v-58m4 12v54m4 -6v-56m4 3v52m4 1v-59m5 6v53m4 10v-61m4 -7v66m4 -8v-57m4 1v54m4 -3v-49m5 -2v57m4 -2v-51m4 -4v60m4 2v-53m4 -7v60m4 -5v-54m4 -9v61m5 7v-69m4 9v54m4 -4v-52m4 0v53m4 10v-62m4 2v56m4 -4v-57m5 2v55m4 2v-54m4 8v48m4 5v-59m4 1v50m4 4v-48m4 -11v50m5 -3v-41m4 -4v62m4 -3v-55m4 -2v57m4 -4v-47m4 -3v52m5 0v-57m4 5v50m4 -9v-55m4 9v55m4 -11v-41m4 -7v55m4 7v-65m5 12v57m4 -10v-61m4 15v47m4 -5v-47m4 -4v60m4 -2v-51m4 4v55m5 -4v-60m4 -6v56m4 5v-49m4 1v51m4 -5v-51m4 -3v54m4 6v-52m5 -15v61m4 -7v-49m4 -1v60m4 0v-47m4 -18v59m4 8v-53m5 -17v63m4 13v-63m4 -15v66m4 18v-75m4 -13v81m4 -6v-67m4 -2v82m5 -10v-76m4 6v75m4 -3v-74m4 -13v95m4 14v-108m4 9v99m4 -3v-110m5 -6v101m4 18v-102m4 -15v111m4 -2v-119m4 19v107m4 -9v-107m4 -24v162m5 -18v-111m4 -20v111m4 29v-132m4 4v122m4 -4v-136m4 17v128m5 -11v-105m4 -15v115m4 -6v-128m4 11v119m4 10v-106m4 -13v117m4 18v-154m5 31v106m4 10v-125m4 -8v133m4 -11v-139m4 21v115m4 11v-126m4 10v112m5 1v-112m4 -22v143m4 -4v-133m4 16v102m4 5v-122m4 17v110m4 -22v-92m5 -12v125m4 11v-139m4 -6v135m4 -11v-106m4 -4v117m4 27v-155m5 4v115m4 -1v-108m4 2v122m4 1v-119m4 -4v118m4 9v-117m4 -30v132m5 -4v-102m4 2v98m4 12v-120m4 13v104m4 11v-114m4 -10v130m4 -17v-126m5 9v124m4 -7v-119m4 17v112m4 -1v-122m4 3v94m4 32v-127m4 -9v123m5 -12v-103m4 2v112m4 25v-136m4 -6v110m4 14v-119m4 -13v118m5 6v-133m4 0v132m4 12v-141m4 9v137m4 -15v-136m4 25v117m4 5v-141m5 27v105m4 5v-125m4 -5v131m4 -12v-99m4 -13v111m4 14v-124m4 -8v131m5 -8v-112m4 -11v136m4 -16v-98m4 -21v131m4 -15v-106m4 -7v126m4 -6v-122m5 -2v115m4 11v-119m4 0v117m4 -12v-93m4 -1v113m4 4v-126m5 6v131m4 -44v-94m4 -8v110m4 9v-127m4 3v141m4 -5v-133m4 1v122m5 4v-115m4 4v133m4 -28v-114m4 7v104m4 26v-149m4 7v131m4 5v-111m5 -19v126m4 2v-133m4 7v112m4 8v-129m4 7v111m4 -2v-109m4 -4v111m5 23v-124m4 1v106m4 -11v-98m4 -16v110m4 32v-142m4 19v119m5 -6v-118m4 11v103m4 -5v-115m4 15v111m4 -8v-94m4 -15v101m4 23v-128m5 -16v133m4 -8v-115m4 6v101m4 3v-117m4 18v109m4 5v-115m4 -13v132m5 -26v-100m4 0v112m4 18v-122m4 -20v129m4 16v-126m4 -8v123m4 -16v-113m5 20v87m4 6v-87m4 -39v140m4 12v-134m4 -10v129m4 24v-143m5 -2v131m4 -10v-127m4 25v114m4 -2v-116m4 -7v126m4 -12v-104m4 -20v150m5 -10v-129m4 -3v117m4 7v-107m4 -9v99m4 16v-122m4 -1v123m4 -16v-102"/>
<path stroke-dasharray="3 3" stroke-dashoffset="0.15" d="M148 280v-48m4 -4v57m4 -10v-46m4 0v55m4 -1v-62m5 13v50m4 4v-55m4 -3v54m4 -2v-61m4 0v70m4 -6v-68m4 -2v67m5 -3v-54m4 3v62m4 -10v-47m4 -18v60m4 0v-50m4 1v51m5 6v-62m4 11v43m4 5v-46m4 -10v48m4 7v-43m4 -11v51m4 1v-62m5 16v48m4 12v-57m4 -10v57m4 10v-60m4 -7v56m4 -2v-56m4 -2v61m5 0v-58m4 -5v69m4 0v-58m4 1v51m4 3v-57m4 3v54m4 0v-52m5 -10v50m4 10v-52m4 -4v49m4 7v-61m4 14v45m4 8v-70m5 5v66m4 -7v-54m4 -4v55m4 10v-63m4 -4v51m4 11v-63m4 6v48m5 15v-65m4 4v63m4 -15v-51m4 2v46m4 12v-60m4 3v53m4 3v-50m5 -10v53m4 8v-65m4 -2v63m4 7v-60m4 -4v56m4 0v-48m4 -13v64m5 1v-59m4 -3v58m4 13v-71m4 -3v57m4 9v-55m4 -7v50m5 5v-49m4 -9v59m4 0v-53m4 2v61m4 -2v-61m4 -4v51m4 4v-48m5 -4v48m4 7v-57m4 4v53m4 3v-60m4 9v53m4 0v-63m4 4v60m5 -8v-50m4 -12v69m4 -6v-53m4 -3v60m4 -7v-52m4 0v62m4 -4v-58m5 -3v59m4 -2v-49m4 -3v61m4 -5v-55m4 1v51m4 0v-53m5 9v50m4 -11v-47m4 3v48m4 10v-62m4 4v48m4 7v-62m4 11v40m5 9v-59m4 2v57m4 -2v-60m4 -4v60m4 4v-47m4 -5v47m4 1v-60m5 2v62m4 7v-66m4 -5v64m4 -2v-57m4 5v49m4 7v-64m4 11v51m5 8v-54m4 -10v55m4 -5v-59m4 15v54m4 -2v-51m4 -5v52m5 -1v-50m4 4v51m4 -5v-54m4 -2v55m4 4v-58m4 11v41m4 0v-50m5 5v44m4 2v-47m4 -3v62m4 -11v-56m4 -1v71m4 -3v-65m4 -8v75m5 5v-82m4 -4v76m4 5v-84m4 7v89m4 -7v-87m4 -7v107m4 1v-101m5 -12v106m4 -11v-93m4 9v90m4 6v-99m4 -22v136m4 -10v-98m5 -18v102m4 36v-159m4 30v105m4 -14v-115m4 12v138m4 -12v-128m4 -12v133m5 12v-126m4 10v89m4 11v-111m4 -23v145m4 -15v-97m4 1v102m4 2v-112m5 -24v148m4 -11v-111m4 -4v104m4 21v-134m4 -16v142m4 -6v-99m4 -16v134m5 -12v-113m4 2v94m4 27v-133m4 -4v148m4 -30v-109m4 -8v124m5 3v-137m4 23v120m4 -7v-112m4 -16v145m4 -16v-140m4 23v127m4 -14v-106m5 -22v143m4 -24v-134m4 25v115m4 9v-127m4 9v114m4 0v-137m4 29v97m5 5v-116m4 10v123m4 -23v-123m4 15v115m4 2v-124m4 21v97m4 23v-127m5 -16v132m4 1v-112m4 -14v136m4 -7v-116m4 -7v115m4 -18v-95m5 0v114m4 0v-115m4 0v105m4 9v-113m4 2v128m4 -24v-92m4 -13v117m5 -12v-108m4 -19v144m4 -12v-116m4 -13v135m4 11v-130m4 -21v129m4 13v-121m5 -15v129m4 3v-120m4 0v118m4 8v-131m4 20v97m4 1v-122m5 12v110m4 13v-121m4 1v111m4 14v-126m4 12v104m4 6v-135m4 14v96m5 23v-138m4 10v121m4 -8v-122m4 14v121m4 -4v-125m4 20v96m4 16v-114m5 -8v105m4 32v-125m4 -13v114m4 -12v-99m4 -19v126m4 18v-133m4 -5v127m5 -4v-121m4 10v124m4 13v-156m4 14v125m4 -14v-97m4 -26v137m5 1v-121m4 15v93m4 14v-139m4 8v128m4 -9v-128m4 7v116m4 2v-115m5 4v126m4 -19v-120m4 19v103m4 4v-107m4 -2v110m4 -16v-95m4 -15v150m5 -12v-119m4 -5v139m4 -25v-107m4 -13v131m4 -5v-121m4 19v117m4 -31v-110m5 5v114m4 3v-119m4 -4v104m4 3v-93m4 -21v115m4 12v-114m5 4v113m4 6v-112m4 -14v104m4 8v-96m4 -8v119m4 -10v-116m4 6v125m5 -10v-115m4 -14v124m4 -17v-104m4 23v89m4 12v-126m4 4v137m4 -18v-116m5 -3v119m4 10v-125m4 -12v118m4 21v-123m4 5v99m4 20v-125m4 9v95m5 35v-144m4 5v118m4 -4v-134m4 34v88m4 2v-90m4 -16v144m5 -22v-130m4 12v104"/>
<path stroke-dasharray="4 4.3" stroke-dashoffset="0.5" d="M148 232v46m4 7v-67m4 11v46m5 9v-52m4 -11v64m4 -1v-52m4 1v47m4 4v-58m4 -5v59m4 11v-67m5 -7v64m4 1v-52m4 -5v67m4 -2v-71m4 14v46m4 -4v-59m4 9v51m5 1v-56m4 0v52m4 2v-55m4 14v51m4 -13v-47m4 11v44m4 -4v-57m5 -4v63m4 1v-49m4 4v52m4 -5v-63m4 13v54m4 -5v-63m5 5v58m4 1v-61m4 3v58m4 6v-68m4 10v49m4 3v-49m4 -5v51m5 6v-52m4 0v52m4 -12v-44m4 2v48m4 -3v-43m4 -11v59m4 0v-52m5 -10v61m4 10v-59m4 -2v53m4 -2v-53m4 0v66m4 -19v-46m4 -6v54m5 0v-57m4 7v64m4 3v-61m4 -5v48m4 0v-42m4 -6v59m5 -3v-52m4 5v51m4 -8v-57m4 0v62m4 -1v-61m4 8v51m4 1v-59m5 11v43m4 8v-56m4 -2v48m4 7v-50m4 -8v68m4 -14v-52m4 6v45m5 -2v-49m4 5v48m4 2v-54m4 1v50m4 13v-60m4 -3v58m4 -11v-43m5 -1v59m4 -15v-48m4 -2v57m4 0v-55m4 -2v51m4 11v-52m5 -11v58m4 6v-56m4 -2v58m4 -1v-60m4 1v50m4 7v-54m4 -5v56m5 6v-64m4 2v51m4 5v-57m4 6v46m4 12v-66m4 6v61m4 -9v-53m5 0v46m4 13v-50m4 -8v49m4 2v-53m4 1v53m4 -1v-47m4 -8v57m5 -6v-50m4 0v56m4 3v-53m4 -9v62m4 -6v-49m4 6v42m5 0v-58m4 -1v58m4 6v-57m4 -2v66m4 -7v-56m4 -3v57m4 -3v-47m5 -10v66m4 -4v-60m4 14v42m4 3v-53m4 -11v61m4 8v-62m4 9v51m5 -4v-48m4 -3v52m4 3v-59m4 0v50m4 3v-55m4 1v60m4 -8v-42m5 -8v62m4 -13v-53m4 8v51m4 8v-66m4 -1v61m4 9v-79m5 11v54m4 13v-72m4 -5v88m4 -16v-72m4 -7v83m4 13v-95m4 1v75m5 25v-113m4 13v84m4 10v-121m4 17v96m4 3v-94m4 1v115m4 -1v-137m5 29v96m4 -12v-100m4 -23v159m4 -24v-98m4 -31v118m4 32v-120m4 -20v127m5 -6v-121m4 7v117m4 -18v-97m4 -3v102m4 20v-141m4 29v108m5 -5v-106m4 -4v109m4 15v-136m4 14v109m4 -9v-91m4 -22v144m4 -18v-141m5 36v96m4 22v-149m4 24v103m4 -7v-108m4 2v121m4 23v-150m4 11v123m5 -7v-113m4 -21v143m4 0v-127m4 8v109m4 20v-123m4 -33v139m4 11v-115m5 -5v108m4 13v-133m4 -25v145m4 -5v-117m4 -1v129m4 -6v-131m5 -6v130m4 -4v-99m4 -12v135m4 -2v-134m4 -12v136m4 -6v-115m4 -7v114m5 4v-114m4 10v130m4 -14v-132m4 21v109m4 13v-144m4 21v127m4 -19v-111m5 -2v96m4 18v-108m4 -7v120m4 -15v-100m4 -4v116m4 14v-136m4 20v108m5 -4v-129m4 9v115m4 10v-129m4 1v121m4 1v-110m4 -9v107m5 1v-112m4 4v97m4 17v-110m4 -7v136m4 -18v-106m4 -17v126m4 -9v-102m5 -19v145m4 -23v-114m4 6v106m4 6v-131m4 19v106m4 10v-98m4 -31v138m5 -28v-92m4 -23v125m4 6v-117m4 -13v148m4 -13v-117m4 -12v111m4 5v-105m5 7v126m4 -29v-107m4 14v115m4 -14v-124m4 13v110m4 -3v-104m5 -11v133m4 -11v-108m4 -17v116m4 18v-116m4 -27v132m4 7v-144m4 33v103m5 8v-119m4 -1v123m4 -15v-96m4 -29v134m4 2v-125m4 -12v128m4 -5v-116m5 3v124m4 6v-127m4 -12v140m4 -18v-97m4 -6v122m4 -14v-108m4 -3v94m5 41v-134m4 3v115m4 19v-142m4 10v130m4 -12v-138m4 12v131m5 5v-138m4 -3v119m4 0v-106m4 -10v134m4 -34v-97m4 7v98m4 -4v-123m5 21v105m4 12v-116m4 10v114m4 -24v-100m4 12v118m4 -7v-127m4 1v118m5 13v-136m4 11v132m4 -22v-109m4 -12v118m4 -6v-99m4 -15v116m4 25v-128m5 -6v115m4 1v-108m4 -7v120m4 -14v-106m4 4v100m4 4v-101m5 -4v101m4 3v-106m4 -3v147m4 -24v-134m4 -4v140m4 -18v-95m4 7v103m5 25v-145m4 -7v124m4 -8v-99"/>
<path stroke-dasharray="4 6" d="M148 278v-46m4 -14v60m5 -3v-49m4 6v46m4 7v-57m4 4v62m4 -14v-50m4 -4v53m4 1v-58m5 2v56m4 1v-57m4 6v42m4 20v-73m4 0v63m4 -3v-44m5 -19v61m4 -1v-51m4 -4v51m4 1v-42m4 -11v69m4 -4v-54m4 -6v54m5 1v-49m4 -12v66m4 -7v-48m4 0v44m4 12v-55m4 -13v70m4 -3v-60m5 -8v64m4 -1v-51m4 -9v52m4 9v-56m4 -6v75m4 -16v-51m4 5v43m5 3v-49m4 3v52m4 0v-55m4 -1v52m4 -2v-47m4 1v40m5 8v-50m4 -2v58m4 -7v-62m4 13v44m4 7v-58m4 3v59m4 7v-61m5 -4v49m4 -1v-52m4 -5v63m4 8v-69m4 11v56m4 -13v-52m4 10v43m5 10v-57m4 2v47m4 9v-57m4 -8v62m4 0v-60m4 -2v53m4 6v-48m5 -10v55m4 -1v-40m4 -8v49m4 -3v-49m4 6v44m4 16v-62m5 -4v58m4 -7v-42m4 -9v56m4 -3v-53m4 1v49m4 2v-50m4 3v53m5 2v-61m4 7v44m4 14v-64m4 1v46m4 9v-51m4 -4v53m4 -4v-47m5 6v57m4 -10v-62m4 12v45m4 11v-69m4 8v49m4 2v-58m4 11v54m5 -3v-54m4 -4v54m4 -1v-43m4 -9v49m4 3v-49m4 -5v58m5 9v-63m4 1v51m4 -5v-46m4 9v45m4 -4v-52m4 1v51m4 3v-57m5 9v58m4 -9v-60m4 4v55m4 1v-49m4 -1v46m4 7v-56m4 1v49m5 -1v-46m4 -12v62m4 -5v-56m4 5v66m4 -2v-66m4 3v51m4 3v-57m5 7v54m4 2v-58m4 -6v57m4 -1v-49m4 -1v55m4 -5v-54m5 0v57m4 3v-56m4 4v47m4 2v-57m4 1v51m4 -1v-50m4 -2v61m5 0v-62m4 12v48m4 6v-69m4 3v57m4 2v-48m4 -10v66m4 -6v-71m5 1v82m4 -17v-67m4 8v71m4 12v-87m4 -1v83m4 -7v-68m4 -14v95m5 -19v-82m4 -6v108m4 -11v-72m4 -39v119m4 -6v-104m4 13v91m5 25v-120m4 -18v137m4 -12v-120m4 8v95m4 41v-160m4 38v96m4 -9v-123m5 35v109m4 -2v-126m4 -1v147m4 -23v-111m4 -4v95m4 4v-121m4 0v119m5 18v-118m4 7v129m4 -24v-117m4 -4v121m4 2v-110m4 10v117m4 5v-139m5 -20v134m4 -2v-111m4 -16v142m4 -15v-94m4 -21v116m4 7v-116m5 -11v149m4 -15v-116m4 -4v119m4 3v-137m4 10v132m4 -15v-119m4 16v122m5 -16v-118m4 14v108m4 -5v-101m4 -19v121m4 -1v-132m4 10v118m4 10v-125m5 -12v127m4 -3v-107m4 4v112m4 11v-118m4 -18v116m4 8v-120m4 -1v118m5 -11v-105m4 -5v122m4 18v-144m4 -2v123m4 7v-117m4 -14v140m5 8v-134m4 4v103m4 -9v-101m4 11v110m4 3v-112m4 -3v93m4 19v-115m5 -7v120m4 8v-146m4 13v135m4 -11v-135m4 16v115m4 7v-119m4 10v96m5 2v-90m4 -21v126m4 -25v-114m4 21v106m4 23v-125m4 1v103m4 6v-129m5 18v99m4 27v-154m4 17v124m4 -12v-110m4 -15v142m4 -17v-95m5 7v92m4 15v-127m4 7v120m4 -18v-126m4 15v123m4 12v-141m4 11v115m5 -16v-105m4 5v96m4 37v-125m4 -11v127m4 2v-123m4 -15v119m4 4v-135m5 28v107m4 15v-124m4 5v107m4 -8v-95m4 -3v112m4 -7v-124m4 -13v144m5 -8v-124m4 13v129m4 -7v-126m4 15v113m4 -8v-137m4 14v122m5 -6v-128m4 7v121m4 6v-136m4 15v127m4 1v-118m4 3v99m4 17v-133m5 11v112m4 -21v-102m4 9v109m4 9v-105m4 -18v137m4 3v-145m4 -5v133m5 10v-120m4 -13v137m4 -21v-117m4 11v96m4 28v-128m4 -3v113m4 -8v-99m5 -28v127m4 -1v-110m4 6v113m4 11v-141m4 17v122m4 8v-119m5 -15v118m4 1v-120m4 -3v121m4 22v-125m4 -6v92m4 14v-120m4 15v93m5 8v-127m4 24v111m4 -2v-124m4 17v115m4 -2v-131m4 11v115m4 -11v-95m5 -2v108m4 -11v-102m4 -1v118m4 26v-150m4 -8v123m4 13v-115m4 2v118m5 -8v-100m4 -20v136m4 -19v-122m4 15v99"/>
<path stroke-dasharray="5 5" d="M149 232v45m4 1v-52m4 0v58m4 -6v-53m4 3v54m4 12v-65m4 1v49m5 0v-51m4 -6v56m4 2v-49m4 -7v63m4 -15v-43m4 -10v67m4 -4v-62m5 15v52m4 -10v-55m4 3v53m4 -6v-56m4 15v46m4 12v-68m4 10v59m5 -11v-56m4 8v55m4 -1v-66m4 11v51m4 -7v-43m4 0v56m5 1v-67m4 4v54m4 2v-52m4 0v53m4 -10v-53m4 6v52m4 17v-66m5 -1v56m4 -8v-48m4 2v61m4 -6v-56m4 1v60m4 -9v-56m4 7v58m5 -17v-43m4 1v51m4 5v-53m4 -16v68m4 -11v-45m4 -6v63m4 -1v-56m5 2v50m4 -5v-48m4 -5v53m4 5v-61m4 0v70m4 -3v-54m5 -11v50m4 3v-42m4 -5v59m4 -10v-56m4 8v54m4 0v-57m4 -3v61m5 -10v-54m4 12v47m4 -2v-49m4 8v42m4 -1v-49m4 -3v58m4 -8v-56m5 10v51m4 3v-55m4 6v50m4 -3v-55m4 -1v52m4 -2v-47m4 -1v50m5 6v-56m4 -3v56m4 -5v-48m4 -2v60m4 -13v-51m4 9v51m5 -2v-48m4 -3v60m4 3v-59m4 -13v60m4 -3v-51m4 -7v73m4 -16v-48m5 -8v62m4 3v-63m4 6v55m4 -5v-53m4 9v47m4 -7v-48m4 2v47m5 6v-56m4 2v56m4 -4v-50m4 -1v50m4 4v-47m4 -9v63m4 -11v-52m5 -2v68m4 -1v-58m4 -11v56m4 3v-46m4 -2v42m4 3v-44m5 -5v47m4 3v-58m4 11v48m4 2v-56m4 -5v55m4 16v-56m4 -12v64m5 -10v-54m4 0v51m4 10v-57m4 1v49m4 2v-56m4 6v60m4 -6v-54m5 -5v61m4 -4v-59m4 6v59m4 -8v-51m4 -4v57m4 -5v-51m4 0v52m5 7v-57m4 -5v53m4 7v-50m4 -13v65m4 -5v-48m4 2v55m5 1v-63m4 -14v74m4 9v-81m4 -3v73m4 6v-80m4 5v88m4 -6v-89m5 14v64m4 17v-91m4 -10v112m4 -10v-100m4 17v86m4 -6v-107m4 -3v95m5 9v-96m4 1v113m4 6v-140m4 8v138m4 -35v-113m4 -6v160m4 -26v-96m5 -36v142m4 2v-109m4 -19v104m4 42v-144m4 10v95m4 -4v-97m5 -20v124m4 -5v-116m4 16v99m4 37v-140m4 -1v112m4 5v-106m4 -2v105m5 22v-115m4 -19v103m4 11v-126m4 13v133m4 -7v-118m4 9v108m4 -13v-100m5 -9v123m4 15v-140m4 9v130m4 -15v-119m4 -15v137m4 5v-148m4 14v120m5 18v-126m4 -8v115m4 7v-121m4 15v89m4 13v-127m4 -6v120m5 8v-107m4 -8v125m4 -10v-123m4 13v127m4 -11v-104m4 -3v110m4 -12v-114m5 2v106m4 11v-111m4 -5v112m4 5v-99m4 -27v116m4 5v-107m4 -3v113m5 13v-134m4 8v119m4 -12v-106m4 -4v106m4 15v-108m4 -1v104m4 -14v-94m5 -2v121m4 -8v-107m4 -31v140m4 8v-132m4 -14v134m4 -3v-107m5 -5v113m4 -7v-100m4 12v105m4 0v-130m4 -9v122m4 5v-128m4 26v117m5 -13v-121m4 -2v118m4 -1v-119m4 -8v131m4 10v-103m4 -19v131m4 -4v-143m5 31v101m4 -2v-97m4 -15v119m4 8v-129m4 -15v125m4 13v-104m4 -25v122m5 4v-110m4 -11v127m4 -26v-82m4 -6v116m4 0v-125m4 4v104m5 0v-98m4 -33v132m4 3v-110m4 1v114m4 -2v-107m4 4v99m4 10v-110m5 -21v122m4 9v-130m4 -2v141m4 1v-138m4 5v131m4 -3v-110m4 -35v131m5 5v-128m4 -6v133m4 -5v-94m4 -36v139m4 3v-149m4 32v96m4 6v-103m5 -13v117m4 6v-111m4 -12v121m4 -3v-112m4 16v102m4 17v-161m5 19v141m4 -13v-136m4 26v108m4 16v-116m4 -22v110m4 -3v-97m4 -3v126m5 -16v-113m4 6v90m4 9v-101m4 -10v116m4 3v-121m4 -9v148m4 -9v-118m5 7v98m4 5v-118m4 -1v122m4 -4v-117m4 14v127m4 -41v-109m4 3v113m5 -5v-87m4 -32v128m4 7v-99m4 -27v129m4 3v-120m4 -13v125m5 1v-138m4 32v104m4 2v-106m4 -7v113m4 4v-126m4 2v149m4 -34v-126m5 24v113m4 7v-110m4 2v81m4 35v-133m4 -8v122m4 -8v-102"/>
<path stroke-dasharray="4 4" d="M149 277v-54m4 3v57m4 1v-60m4 1v51m4 6v-58m4 5v64m5 -14v-50m4 -1v57m4 -7v-54m4 7v47m4 9v-64m4 6v45m5 12v-62m4 -4v65m4 2v-51m4 -14v57m4 -1v-48m4 -14v56m4 5v-54m5 -2v56m4 13v-56m4 -11v54m4 9v-60m4 -7v57m4 5v-49m4 -1v48m5 8v-57m4 -9v67m4 -9v-50m4 0v55m4 -2v-62m4 -1v61m4 -3v-47m5 -2v57m4 -2v-63m4 7v58m4 5v-68m4 6v52m4 9v-66m5 1v50m4 15v-59m4 -1v49m4 3v-49m4 1v47m4 5v-58m4 2v55m5 2v-70m4 13v60m4 -8v-47m4 -6v50m4 -2v-47m4 -9v57m4 13v-70m5 13v47m4 -8v-49m4 10v51m4 3v-54m4 -12v63m4 -1v-54m4 -3v51m5 7v-60m4 -4v64m4 -5v-47m4 -4v56m4 -6v-47m4 -3v53m5 2v-61m4 -3v58m4 3v-51m4 -1v52m4 4v-59m4 1v61m4 -10v-44m5 -5v50m4 -1v-51m4 1v56m4 -3v-51m4 -2v47m4 11v-52m4 -12v60m5 0v-51m4 1v56m4 1v-64m4 8v55m4 -8v-56m4 2v50m4 16v-70m5 6v50m4 4v-60m4 0v66m4 -5v-51m4 -7v57m4 -1v-53m5 -2v56m4 -7v-40m4 -10v63m4 -5v-52m4 -2v57m4 -8v-52m4 9v49m5 5v-56m4 -7v53m4 13v-64m4 5v57m4 -12v-55m4 12v43m4 -3v-48m5 7v47m4 -5v-53m4 -2v62m4 -3v-57m4 3v48m4 2v-57m4 17v57m5 -5v-61m4 -3v50m4 1v-45m4 -2v60m4 -10v-56m4 2v61m5 5v-56m4 -4v50m4 6v-62m4 -1v54m4 11v-59m4 0v47m4 6v-50m5 -6v56m4 -4v-46m4 -4v54m4 -6v-43m4 0v46m4 6v-65m4 12v45m5 12v-62m4 0v61m4 -1v-72m4 0v83m4 -13v-63m4 -11v83m4 10v-81m5 -14v78m4 0v-72m4 -2v85m4 17v-117m4 7v107m4 -4v-94m5 -19v108m4 -16v-92m4 5v102m4 12v-101m4 -33v129m4 17v-126m4 -22v124m5 30v-157m4 35v94m4 12v-118m4 11v125m4 -40v-109m4 7v124m4 -19v-94m5 -7v113m4 -9v-91m4 -30v124m4 -9v-89m4 -14v133m4 -22v-109m4 8v118m5 -15v-111m4 18v110m4 -26v-94m4 -21v116m4 30v-116m4 -9v112m5 5v-109m4 -4v97m4 17v-135m4 10v129m4 10v-147m4 13v109m4 13v-134m5 -9v148m4 -14v-110m4 2v115m4 -8v-141m4 27v123m4 -19v-100m4 -14v126m5 -12v-102m4 3v99m4 18v-111m4 -22v129m4 11v-154m4 39v105m4 2v-112m5 -14v110m4 -2v-100m4 0v115m4 -8v-102m4 8v114m4 -25v-119m5 17v118m4 -8v-99m4 -22v141m4 -14v-111m4 -7v120m4 -18v-105m4 12v107m5 -4v-117m4 9v115m4 4v-147m4 32v111m4 -2v-135m4 11v121m4 -1v-131m5 21v106m4 2v-114m4 7v107m4 10v-128m4 -2v114m4 -1v-114m4 -9v136m5 7v-112m4 -22v123m4 -7v-108m4 -12v135m4 -12v-126m4 33v93m5 19v-131m4 -16v146m4 -14v-129m4 30v103m4 1v-116m4 -5v120m4 -10v-113m5 22v107m4 -10v-107m4 1v118m4 -2v-127m4 19v80m4 30v-115m4 -10v122m5 -14v-95m4 -3v119m4 -20v-113m4 6v100m4 15v-111m4 2v102m4 1v-99m5 -1v117m4 -16v-104m4 -17v113m4 26v-127m4 -10v139m4 -3v-122m5 9v88m4 8v-130m4 7v123m4 4v-110m4 11v88m4 15v-128m4 -18v137m5 -9v-107m4 10v107m4 -3v-106m4 1v102m4 7v-117m4 2v131m4 -13v-117m5 -27v145m4 15v-137m4 -12v132m4 2v-112m4 12v125m4 -37v-119m4 19v105m5 18v-143m4 14v109m4 -13v-85m4 -7v115m4 -9v-127m4 9v119m5 20v-128m4 1v104m4 1v-95m4 -18v128m4 -7v-128m4 7v113m4 28v-144m5 -6v114m4 2v-92m4 0v88m4 8v-119m4 27v88m4 14v-133m4 16v134m5 -22v-126m4 -11v131m4 5v-115m4 11v109m4 -3v-130m4 8v123m4 28v-157m5 -3v125m4 12v-113m4 10v107m4 -24v-92m4 -6v129m4 -15v-121m5 11v97"/>
<path stroke-dasharray="4 5" stroke-dashoffset="0.15" d="M149 223v53m4 7v-65m4 6v62m4 -10v-47m5 -5v56m4 13v-70m4 6v46m4 10v-54m4 -7v51m4 3v-50m4 -5v63m5 -12v-48m4 -2v59m4 2v-60m4 11v56m4 -13v-53m4 4v62m4 -20v-45m5 -4v58m4 -4v-50m4 7v43m4 0v-53m4 2v63m4 -13v-49m5 5v42m4 5v-55m4 6v42m4 16v-61m4 2v51m4 4v-57m4 -7v68m5 -8v-55m4 5v49m4 6v-58m4 -7v65m4 0v-58m4 -5v62m4 -4v-54m5 -3v60m4 -9v-51m4 7v61m4 -13v-50m4 4v41m4 7v-49m4 -4v62m5 -5v-64m4 -4v59m4 14v-62m4 7v58m4 -14v-60m4 11v44m5 4v-57m4 0v60m4 0v-46m4 -11v59m4 2v-49m4 -2v42m4 9v-58m5 3v58m4 -10v-56m4 3v58m4 2v-57m4 5v47m4 5v-54m4 1v43m5 7v-59m4 0v61m4 -6v-50m4 2v49m4 2v-57m4 2v57m4 5v-53m5 -1v45m4 0v-57m4 5v60m4 -3v-49m4 -5v49m4 -4v-56m5 15v44m4 4v-61m4 10v54m4 3v-55m4 -8v61m4 2v-55m4 -9v66m5 -14v-54m4 0v57m4 -1v-52m4 -4v57m4 9v-59m4 3v45m4 5v-51m5 -3v52m4 2v-53m4 6v56m4 -3v-64m4 7v57m4 -2v-62m4 2v49m5 9v-49m4 -2v55m4 -9v-53m4 2v45m4 17v-58m4 -9v65m5 -10v-45m4 -6v53m4 1v-50m4 -8v61m4 -1v-64m4 4v58m4 -7v-51m5 -4v58m4 16v-65m4 -1v52m4 -5v-45m4 1v46m4 12v-58m4 -8v61m5 2v-57m4 6v57m4 -11v-52m4 -4v53m4 0v-47m4 -1v48m4 -1v-47m5 3v50m4 0v-50m4 0v41m4 9v-62m4 13v44m4 2v-53m5 -6v60m4 -3v-54m4 4v51m4 10v-67m4 -6v76m4 7v-78m4 2v67m5 5v-76m4 5v71m4 -7v-80m4 8v67m4 16v-97m4 -3v119m4 -5v-97m5 -1v97m4 -8v-121m4 13v111m4 -4v-109m4 20v106m4 -10v-103m4 -6v115m5 -13v-123m4 -4v137m4 -8v-91m4 -15v96m4 40v-138m4 -11v125m5 6v-133m4 20v109m4 -3v-116m4 16v92m4 2v-100m4 2v92m4 27v-117m5 -14v105m4 21v-115m4 -11v117m4 11v-130m4 10v97m4 -2v-106m4 20v114m5 -11v-114m4 10v86m4 7v-115m4 -3v139m4 0v-121m4 -16v123m4 -1v-119m5 -2v114m4 25v-137m4 13v126m4 -9v-126m4 -23v148m4 2v-108m5 -11v97m4 15v-132m4 18v106m4 -4v-100m4 7v102m4 5v-129m4 -14v135m5 9v-103m4 -7v108m4 -12v-103m4 1v102m4 13v-131m4 21v111m4 11v-136m5 -8v122m4 13v-121m4 14v101m4 18v-140m4 15v93m4 20v-104m4 -19v106m5 13v-128m4 7v136m4 -12v-115m4 -28v135m4 8v-121m4 -16v129m5 3v-120m4 -12v125m4 2v-112m4 0v115m4 -1v-96m4 -22v139m4 -27v-127m5 12v125m4 2v-128m4 23v114m4 -13v-112m4 -3v102m4 21v-117m4 -21v141m5 -15v-111m4 -1v134m4 -4v-126m4 -17v116m4 17v-106m4 -9v113m4 2v-129m5 6v125m4 4v-129m4 12v103m4 16v-113m4 -16v133m4 -34v-97m5 12v129m4 -17v-125m4 16v104m4 12v-128m4 -5v116m4 -10v-97m4 1v107m5 -3v-117m4 19v107m4 9v-124m4 4v119m4 -23v-111m4 10v128m4 1v-144m5 19v118m4 -21v-87m4 -35v145m4 -15v-126m4 20v91m4 8v-102m4 -11v127m5 -8v-109m4 -7v114m4 3v-122m4 13v106m4 -3v-115m4 5v116m5 17v-130m4 0v119m4 -1v-123m4 1v121m4 -1v-128m4 18v113m4 24v-135m5 -21v130m4 -6v-99m4 -26v130m4 -7v-119m4 21v94m4 14v-138m4 2v145m5 -17v-125m4 17v112m4 -7v-123m4 29v110m4 0v-138m4 3v141m4 -21v-106m5 -10v148m4 -40v-111m4 21v85m4 3v-90m4 -21v129m4 -14v-107m5 -12v124m4 26v-123m4 -25v122m4 -2v-125m4 15v109m4 11v-123m4 -10v140m5 -9v-120m4 -9v158m4 -36v-113m4 12v126m4 -9v-123m4 7v99m4 24v-124m5 -12v115m4 -7v-103"/>
<path stroke-dasharray="3 4" d="M149 276v-45m4 -13v69m4 -1v-61m5 4v47m4 4v-59m4 2v59m4 -7v-47m4 3v53m4 -9v-42m5 -5v58m4 0v-67m4 7v52m4 5v-59m4 1v56m4 11v-63m4 -3v51m5 15v-67m4 2v52m4 2v-51m4 -3v64m4 -14v-41m4 -12v52m4 13v-63m5 1v58m4 -11v-40m4 -10v54m4 -6v-44m4 -1v52m4 1v-46m4 -7v48m5 13v-68m4 5v50m4 4v-60m4 8v53m4 5v-57m4 -1v47m5 10v-55m4 -3v59m4 -2v-51m4 -9v49m4 19v-59m4 -4v46m4 -1v-38m5 -4v60m4 -2v-69m4 0v57m4 -2v-57m4 9v51m4 14v-59m4 -15v59m5 -4v-43m4 -10v64m4 -4v-58m4 12v48m4 0v-58m4 11v48m4 -8v-44m5 -5v48m4 13v-53m4 -13v55m4 6v-56m4 1v47m4 5v-49m5 0v61m4 -17v-38m4 -14v56m4 5v-58m4 2v47m4 4v-55m4 0v51m5 8v-57m4 9v55m4 -11v-46m4 -11v64m4 1v-54m4 2v58m4 -14v-46m5 -14v62m4 -3v-44m4 -13v52m4 12v-59m4 7v50m4 3v-63m4 10v56m5 1v-71m4 3v66m4 -9v-50m4 -3v57m4 -4v-56m4 6v62m5 -14v-42m4 -4v52m4 -3v-45m4 -6v50m4 12v-64m4 -3v56m4 8v-59m5 -5v65m4 -14v-47m4 7v43m4 10v-61m4 -1v56m4 -9v-39m4 -2v51m5 5v-68m4 13v57m4 -10v-54m4 5v44m4 9v-58m4 -7v57m4 5v-54m5 -4v52m4 2v-53m4 4v67m4 -16v-52m4 2v53m4 -6v-46m5 0v49m4 4v-63m4 8v48m4 15v-63m4 0v60m4 -11v-49m4 2v50m5 -3v-46m4 -2v55m4 -2v-51m4 1v54m4 -13v-49m4 -4v65m4 -8v-47m5 -4v56m4 -2v-60m4 3v54m4 1v-44m4 -13v65m4 5v-65m4 -6v71m5 -2v-78m4 7v64m4 12v-81m4 -6v93m4 -18v-59m4 -22v101m5 15v-106m4 4v94m4 2v-117m4 -12v109m4 15v-113m4 0v111m4 15v-128m5 15v92m4 17v-129m4 -7v126m4 7v-101m4 2v88m4 -7v-113m4 15v130m5 -16v-106m4 -21v143m4 -14v-114m4 -5v118m4 -10v-89m4 -9v103m4 -9v-108m5 18v101m4 -10v-91m4 -3v120m4 -14v-120m4 1v113m4 -6v-104m5 -4v114m4 20v-124m4 -1v104m4 -8v-91m4 -17v128m4 8v-127m4 6v118m5 -11v-111m4 -9v133m4 -21v-105m4 -7v133m4 6v-146m4 11v143m4 -18v-145m5 39v90m4 -4v-88m4 -29v139m4 -15v-112m4 8v100m4 9v-108m4 -16v118m5 3v-107m4 13v100m4 1v-110m4 -5v118m4 -15v-104m4 -14v133m5 -1v-112m4 -13v116m4 -2v-98m4 -10v108m4 7v-99m4 -23v122m4 -14v-100m5 16v95m4 -8v-130m4 15v116m4 27v-119m4 -8v109m4 -2v-134m4 21v112m5 1v-121m4 4v114m4 -1v-128m4 18v131m4 -16v-132m4 35v82m4 35v-130m5 -24v126m4 11v-135m4 9v116m4 21v-108m4 -17v108m4 -9v-108m5 12v102m4 18v-133m4 7v107m4 26v-135m4 5v122m4 -23v-116m4 27v92m5 12v-117m4 -10v145m4 -14v-126m4 1v120m4 -5v-110m4 13v110m4 7v-133m5 2v109m4 32v-141m4 -1v138m4 -18v-107m4 -9v107m4 4v-120m4 13v99m5 9v-124m4 4v131m4 -5v-118m4 3v106m4 17v-128m4 -6v122m5 16v-143m4 0v116m4 21v-115m4 7v109m4 1v-121m4 -20v143m4 -32v-104m5 10v114m4 2v-124m4 7v112m4 -5v-112m4 -7v130m4 -11v-112m4 -6v123m5 -2v-141m4 28v125m4 -6v-109m4 -15v133m4 -11v-114m4 -15v141m4 -10v-118m5 7v136m4 -27v-98m4 -7v99m4 5v-125m4 -1v121m4 -6v-95m5 -29v133m4 14v-133m4 -9v132m4 -3v-127m4 -3v124m4 15v-126m4 -12v126m5 18v-125m4 -2v119m4 19v-146m4 -5v121m4 -15v-94m4 7v102m4 6v-115m5 -6v107m4 5v-114m4 17v95m4 2v-134m4 7v118m4 6v-90m4 -22v136m5 -6v-133m4 4v134m4 15v-149m4 0v110m4 28v-141m4 9v111m5 -5v-110m4 10v132m4 -29v-107m4 -3v122"/>
<path stroke-dasharray="4 4.3" d="M149 231v47m5 9v-64m4 2v57m4 -6v-47m4 -8v60m4 1v-63m4 9v48m4 8v-55m5 4v42m4 11v-56m4 -11v59m4 0v-54m4 0v61m4 -4v-55m4 3v50m5 -2v-49m4 -3v60m4 -6v-57m4 8v51m4 10v-68m4 13v43m5 -3v-50m4 0v64m4 -5v-69m4 18v47m4 -3v-56m4 6v54m4 -3v-53m5 8v59m4 -18v-45m4 -10v60m4 -5v-46m4 -10v64m4 -3v-61m4 9v56m5 -10v-41m4 -4v66m4 -10v-57m4 4v47m4 -7v-48m4 8v52m4 -10v-43m5 4v48m4 8v-67m4 -4v64m4 -7v-57m4 -2v64m4 -4v-51m5 6v59m4 -15v-56m4 9v51m4 3v-67m4 5v61m4 -1v-54m4 -4v52m5 7v-55m4 3v57m4 -14v-48m4 8v50m4 -8v-53m4 3v51m4 -3v-45m5 1v46m4 15v-69m4 14v49m4 -7v-47m4 -6v53m4 -4v-47m4 -4v54m5 -3v-46m4 -3v48m4 16v-61m4 4v39m4 14v-63m4 10v56m5 4v-65m4 5v45m4 3v-59m4 12v40m4 -1v-46m4 -1v55m4 2v-55m5 -5v57m4 9v-64m4 -6v76m4 -7v-58m4 -1v62m4 -8v-58m4 -2v62m5 6v-65m4 9v50m4 -2v-59m4 11v44m4 0v-51m4 -1v62m4 -9v-52m5 1v63m4 -3v-57m4 -4v48m4 2v-42m4 -9v53m4 2v-56m5 8v42m4 7v-55m4 -8v56m4 14v-54m4 -10v56m4 -7v-48m4 -1v49m5 1v-46m4 -3v60m4 -12v-45m4 -6v62m4 9v-61m4 -7v63m4 -8v-46m5 -6v49m4 0v-54m4 -5v59m4 -3v-49m4 1v56m4 4v-55m4 -5v57m5 -5v-48m4 -1v55m4 -2v-54m4 1v44m4 11v-54m4 -8v57m5 4v-54m4 -1v46m4 6v-54m4 -8v61m4 -4v-58m4 15v54m4 -2v-57m5 -3v58m4 7v-74m4 -6v76m4 -5v-70m4 1v73m4 14v-80m4 3v66m5 13v-90m4 -1v89m4 9v-112m4 -3v117m4 -20v-93m4 -5v109m4 2v-103m5 -10v134m4 -27v-95m4 -17v137m4 -18v-128m4 34v104m4 -14v-95m5 -25v113m4 32v-134m4 12v92m4 30v-125m4 -3v114m4 -1v-114m4 15v95m5 -1v-106m4 -11v125m4 -6v-114m4 13v104m4 13v-132m4 -2v137m4 -23v-113m5 3v122m4 -12v-131m4 27v112m4 -9v-131m4 32v105m4 6v-110m4 -9v140m5 -16v-118m4 -4v128m4 -4v-121m4 -5v110m4 16v-135m4 -5v140m5 14v-140m4 -23v149m4 -20v-109m4 17v113m4 -3v-133m4 6v122m4 -14v-109m5 10v118m4 -16v-119m4 15v132m4 -19v-118m4 9v111m4 2v-133m4 14v108m5 11v-134m4 21v102m4 1v-98m4 -2v115m4 -17v-105m4 13v93m4 6v-122m5 8v110m4 1v-105m4 -33v155m4 -24v-117m4 25v111m4 -10v-123m5 -13v145m4 -12v-106m4 -14v147m4 -29v-124m4 -5v127m4 22v-131m4 -17v132m5 -15v-94m4 -1v109m4 -7v-90m4 -34v114m4 11v-111m4 24v98m4 -7v-108m5 -9v112m4 2v-107m4 -8v137m4 -23v-117m4 8v119m4 8v-133m4 -6v117m5 2v-92m4 -13v124m4 11v-142m4 2v117m4 4v-112m4 -3v126m5 -3v-106m4 -20v131m4 -20v-108m4 -1v117m4 20v-132m4 7v119m4 -21v-114m5 -2v124m4 -12v-103m4 -12v118m4 17v-133m4 10v120m4 -11v-110m4 -1v136m5 -20v-110m4 -17v128m4 -12v-118m4 24v101m4 15v-122m4 2v104m4 19v-124m5 -12v114m4 10v-102m4 -20v113m4 6v-123m4 6v109m4 14v-106m5 -17v139m4 -22v-120m4 -23v157m4 -4v-129m4 14v112m4 6v-134m4 9v112m5 14v-131m4 3v111m4 32v-141m4 16v98m4 -6v-112m4 -8v138m4 -18v-99m5 -2v97m4 7v-128m4 9v113m4 10v-110m4 -20v128m4 -7v-110m4 -1v119m5 -5v-122m4 15v100m4 17v-116m4 -11v147m4 -31v-119m4 10v96m5 13v-109m4 0v97m4 4v-106m4 -3v110m4 2v-100m4 -32v134m4 -9v-98m5 14v90m4 24v-136m4 -3v127m4 11v-121m4 -13v139m4 -29v-100m4 -13v132m5 -12v-105m4 -10v116m4 26v-137m4 1v114m4 5v-113"/>
<path stroke-dasharray="5 3" d="M150 278v-49m4 -6v60m4 -1v-48m4 -5v50m4 2v-56m4 -6v74m5 -17v-50m4 3v54m4 -8v-46m4 1v57m4 -9v-60m4 6v55m4 6v-62m5 3v59m4 -6v-51m4 0v51m4 6v-55m4 -8v58m4 1v-54m4 -4v60m5 -4v-52m4 -1v51m4 13v-63m4 -11v58m4 7v-52m4 -7v52m4 8v-59m5 3v58m4 9v-72m4 9v45m4 5v-55m4 4v53m4 1v-62m5 -2v59m4 6v-67m4 16v51m4 11v-63m4 -4v50m4 1v-51m4 -4v57m5 3v-54m4 1v49m4 3v-55m4 -4v54m4 6v-61m4 -3v65m4 -3v-60m5 5v51m4 14v-65m4 -6v55m4 5v-60m4 -4v65m4 1v-59m4 4v61m5 -13v-52m4 4v57m4 3v-58m4 -4v61m4 -3v-52m4 -9v51m5 3v-59m4 11v46m4 1v-45m4 -9v64m4 -1v-49m4 -5v58m4 -11v-54m5 3v44m4 6v-49m4 0v48m4 -3v-43m4 -2v64m4 -21v-49m4 0v59m5 7v-63m4 2v58m4 -8v-43m4 -13v56m4 -4v-41m4 -6v51m4 3v-49m5 -4v55m4 -3v-47m4 -8v56m4 14v-75m4 10v57m4 4v-72m5 6v53m4 7v-65m4 6v60m4 -1v-50m4 -11v53m4 2v-51m4 0v51m5 10v-62m4 1v61m4 3v-62m4 2v50m4 -6v-50m4 10v46m4 -2v-49m5 -5v56m4 -6v-49m4 1v66m4 -18v-41m4 1v52m4 -6v-50m4 -5v47m5 1v-47m4 2v53m4 4v-63m4 6v47m4 9v-62m4 10v59m5 -3v-68m4 14v38m4 5v-49m4 -5v59m4 -5v-52m4 0v52m4 5v-47m5 -4v47m4 5v-53m4 0v46m4 8v-52m4 -4v49m4 -4v-45m4 2v52m5 -3v-53m4 3v48m4 -3v-46m4 -2v52m4 1v-56m4 -6v65m4 4v-52m5 -7v55m4 0v-61m4 -6v85m4 -15v-72m4 -3v70m4 4v-73m5 7v70m4 -1v-69m4 -8v86m4 2v-107m4 4v109m4 5v-118m4 5v104m5 0v-107m4 6v103m4 21v-130m4 8v97m4 23v-140m4 -6v114m4 24v-106m5 -3v105m4 -17v-89m4 -13v137m4 -33v-102m4 7v113m4 -2v-120m4 5v94m5 16v-109m4 2v111m4 3v-128m4 8v129m4 -12v-118m4 -1v113m5 22v-123m4 -13v131m4 -6v-136m4 -7v131m4 8v-128m4 -12v143m4 -6v-114m5 10v120m4 11v-137m4 3v110m4 14v-126m4 1v110m4 -5v-113m4 -6v132m5 3v-114m4 -12v135m4 -9v-130m4 1v99m4 31v-121m4 -15v124m4 4v-107m5 -16v104m4 24v-127m4 -8v125m4 22v-143m4 6v108m4 12v-123m5 -8v117m4 5v-119m4 -4v135m4 -12v-116m4 19v115m4 -2v-129m4 7v108m5 -2v-110m4 -6v119m4 -1v-110m4 6v111m4 11v-134m4 -7v118m4 18v-127m5 -6v130m4 2v-118m4 0v126m4 7v-156m4 3v133m4 -11v-113m4 4v134m5 -19v-112m4 3v99m4 9v-113m4 16v110m4 -30v-100m4 0v106m5 16v-110m4 -5v117m4 -14v-113m4 8v110m4 19v-131m4 -9v113m4 14v-115m5 -10v128m4 -17v-113m4 23v86m4 25v-138m4 7v139m4 -20v-123m4 15v101m5 22v-123m4 14v104m4 7v-119m4 -9v105m4 11v-122m4 10v129m4 -3v-135m5 0v128m4 -6v-138m4 23v103m4 3v-129m4 13v130m4 0v-107m5 -14v122m4 13v-140m4 10v104m4 7v-124m4 -6v142m4 -17v-114m4 7v101m5 5v-107m4 2v124m4 -22v-101m4 9v82m4 11v-138m4 21v111m4 4v-100m5 8v117m4 5v-140m4 -2v101m4 33v-145m4 12v114m4 12v-126m4 -2v123m5 -2v-123m4 6v118m4 -4v-104m4 -5v138m4 -24v-103m4 -15v105m5 25v-133m4 16v118m4 -23v-102m4 -19v136m4 -14v-103m4 3v113m4 -5v-133m5 16v125m4 -7v-115m4 -12v119m4 -4v-109m4 10v107m4 29v-145m4 -5v102m5 4v-89m4 -7v98m4 -1v-86m4 -16v104m4 3v-107m4 9v107m4 -5v-117m5 10v103m4 1v-104m4 -8v112m4 12v-125m4 15v108m4 18v-154m5 25v93m4 26v-128m4 11v116m4 -10v-105m4 -6v123m4 -8v-116m4 8v115"/>
<path stroke-dasharray="4 3" stroke-dashoffset="0.15" d="M150 229v49m4 5v-64m4 15v55m4 -10v-54m4 0v63m5 5v-64m4 -3v50m4 7v-61m4 7v54m4 4v-59m4 -10v64m4 -3v-48m5 -8v69m4 -7v-56m4 -1v51m4 0v-56m4 7v62m4 -12v-60m4 7v52m5 4v-66m4 10v51m4 -1v-51m4 1v64m4 -17v-52m4 7v46m5 -1v-46m4 -5v58m4 3v-54m4 -9v63m4 -9v-49m4 -1v54m4 3v-53m5 -8v58m4 -1v-49m4 -12v70m4 -3v-55m4 3v52m4 -6v-56m4 6v58m5 -5v-47m4 -4v49m4 1v-60m4 8v51m4 -1v-52m4 -3v59m4 3v-55m5 -8v53m4 3v-50m4 -1v63m4 -14v-50m4 -5v58m4 3v-60m5 2v55m4 10v-62m4 -3v58m4 3v-51m4 -4v52m4 5v-59m4 4v54m5 -12v-44m4 -12v60m4 -3v-47m4 3v47m4 8v-62m4 12v39m4 14v-62m5 -3v57m4 -10v-49m4 6v45m4 3v-45m4 -1v50m4 12v-67m4 -3v59m5 0v-51m4 -5v59m4 1v-53m4 2v44m4 -1v-57m4 12v40m5 5v-55m4 9v50m4 1v-56m4 6v52m4 -4v-48m4 -13v71m4 -4v-59m5 -9v74m4 -15v-52m4 -6v59m4 7v-58m4 7v48m4 -6v-50m4 1v50m5 1v-47m4 -5v55m4 7v-59m4 0v50m4 2v-48m4 -8v50m4 6v-48m5 -3v49m4 2v-55m4 0v56m4 11v-66m4 7v52m4 1v-55m5 -1v48m4 -6v-39m4 -7v47m4 8v-51m4 -8v59m4 -6v-45m4 -8v54m5 15v-64m4 -7v55m4 -3v-37m4 -7v51m4 3v-57m4 0v60m4 -8v-57m5 15v43m4 0v-47m4 -1v48m4 -2v-56m4 12v45m4 0v-54m4 5v43m5 11v-51m4 -5v54m4 -3v-53m4 4v56m4 -6v-51m4 -4v60m5 -1v-70m4 22v44m4 4v-61m4 0v62m4 17v-89m4 2v79m4 -12v-76m5 7v76m4 1v-80m4 10v76m4 2v-82m4 -23v101m4 12v-108m4 -5v110m5 -1v-107m4 0v102m4 7v-104m4 -5v139m4 -34v-86m4 -31v142m5 -34v-116m4 34v101m4 1v-100m4 -6v102m4 22v-126m4 -9v107m4 13v-121m5 -1v129m4 -30v-107m4 14v123m4 -10v-126m4 1v113m4 24v-126m4 -4v109m5 3v-103m4 2v109m4 9v-116m4 -26v129m4 -5v-127m4 7v135m4 -4v-137m5 17v104m4 26v-141m4 15v119m4 -6v-133m4 21v123m4 -12v-120m5 2v119m4 7v-118m4 7v110m4 13v-144m4 5v114m4 -14v-86m4 -4v116m5 -7v-135m4 32v99m4 -11v-87m4 -16v133m4 -16v-102m4 -19v142m4 -28v-105m5 -6v120m4 -11v-99m4 -15v109m4 22v-110m4 -18v124m4 10v-120m4 -11v136m5 -21v-112m4 0v119m4 -6v-111m4 0v107m4 10v-107m4 -16v110m5 1v-105m4 -4v128m4 -4v-122m4 6v115m4 11v-118m4 -31v156m4 -20v-116m5 -8v126m4 12v-138m4 7v132m4 -30v-106m4 2v134m4 -8v-108m4 -22v121m5 -15v-99m4 5v101m4 11v-124m4 -3v121m4 -3v-111m4 -1v141m4 -37v-122m5 21v114m4 4v-113m4 -17v109m4 0v-98m4 -15v130m4 16v-140m5 -3v117m4 -1v-100m4 -1v126m4 -8v-136m4 24v116m4 -20v-107m4 -4v112m5 27v-120m4 -18v114m4 14v-123m4 -21v139m4 -13v-118m4 -8v143m4 0v-129m5 22v97m4 11v-113m4 -14v117m4 -3v-96m4 -21v121m4 15v-154m4 23v123m5 -15v-101m4 -1v126m4 0v-126m4 3v98m4 -7v-102m4 -25v136m5 -4v-117m4 21v101m4 24v-128m4 -7v124m4 -25v-95m4 -17v137m4 -11v-134m5 20v124m4 -3v-105m4 -20v147m4 -23v-122m4 14v104m4 29v-127m4 0v98m5 -8v-105m4 -3v101m4 33v-118m4 -7v104m4 13v-120m4 3v112m4 4v-119m5 -19v128m4 13v-141m4 19v106m4 1v-110m4 -3v128m4 -11v-135m5 19v118m4 -21v-97m4 12v107m4 -16v-104m4 17v108m4 -20v-89m4 -15v131m5 -15v-101m4 -21v115m4 -2v-89m4 -14v122m4 -18v-102m4 -11v104m4 19v-129m5 -7v152m4 -34v-103m4 1v128m4 -1v-106m4 -9v103m4 14v-116m4 -8v120"/>
</g>
<g stroke-dasharray="4 4.3">
<path d="M147.94 252.06V210M153.94 227.85V200M159.94 256.02V195.5M165.94 247.2V188M171.94 230.04V185M178.94 248.48V190M184.94 255.71V214M190.94 247.89V211M196.94 268.43V209.5M202.94 233.36V200M208.94 271.57V203M214.94 268.08V206M221.94 247.09V205.5M227.94 241.63V208M233.94 230.62V202M239.94 229.79V204.5M245.94 230.39V204M251.94 269.36V200M257.94 262.15V202M264.94 269.97V203M270.94 230.9V197.5M276.94 244.36V201M282.94 238.43V187M288.94 238.28V204M294.94 271.98V210M300.94 248.35V198M307.94 235.78V202M313.94 245.68V192M319.94 265.41V190.5M325.94 246.6V186M331.94 262.78V179M337.94 261.57V183M343.94 247.76V194M350.94 259.28V206M356.94 266.91V208M362.94 259.61V206M368.94 223.28V198M374.94 240.89V204M380.94 237.14V203M386.94 272.62V205M393.94 238.96V204M399.94 256.21V206M405.94 235.49V200M411.94 263.63V203.5M417.94 234.2V200M423.94 260.24V207.5M429.94 260.26V208M435.94 230.67V214M442.94 261.12V211M448.94 244.02V208M454.94 262.27V196M460.94 240.25V197.5M466.94 244.06V207M472.94 242.44V192M478.94 222.88V197M485.94 240.64V188M491.94 272.97V197M497.94 277.01V192M503.94 229.68V195.5M509.94 231.2V198M515.94 248.48V195M521.94 264.91V188M528.94 238.43V201.5M534.94 243.27V198M540.94 232.86V208M546.94 262.63V212M552.94 231.24V212M558.94 250.21V207.5M564.94 265V204M571.94 250.7V208.5M577.94 257.27V213M583.94 229.53V210M589.94 246.63V213M595.94 249.74V208M601.94 244.22V218M607.94 275.01V213M614.94 229.94V196M620.94 250.39V200M626.94 280.56V195.5M632.94 277.21V194M638.94 241.43V198.5M644.94 270.3V201M650.94 253.51V192M657.94 236.77V193.5M663.94 255.48V186M669.94 279.47V192.5M675.94 245.28V186M681.94 246.19V196M687.94 262.35V202.5M693.94 233.14V216M699.94 234.73V209.5M706.94 281.37V198M712.94 264.02V196M718.94 219.68V194M724.94 250.72V191.5M730.94 254.79V186M736.94 266.66V167M742.94 289.33V154M749.94 281.23V156M755.94 211.11V157.5M761.94 273.34V147M767.94 279.19V167.5M773.94 211.93V145M779.94 211.72V134M785.94 253.48V143.5M792.94 236.43V117M798.94 267.08V125M804.94 278.91V145.5M810.94 247.88V123M816.94 206.08V128.5M822.94 251.02V117M828.94 281.66V129M835.94 216.22V133M841.94 293.59V141.5M847.94 271.49V143M853.94 290.01V140.5M859.94 264.76V129M865.94 263V143M871.94 218.01V149M878.94 302.42V149.5M884.94 303.78V153M890.94 308.31V159M896.94 295.97V163M902.94 250.14V164.5M908.94 259.4V143M914.94 277.71V153M921.94 213.01V159.5M927.94 216.61V165M933.94 287.7V162.5M939.94 224.29V155M945.94 220.98V162.5M951.94 286V133M957.94 283.39V150.5M964.94 269.25V141M970.94 273.31V140.5M976.94 197.18V146M982.94 285.51V135M988.94 204.44V119M994.94 245.18V134.5M1000.94 204.01V143M1006.94 237.93V135.5M1013.94 229.07V119M1019.94 283.17V117M1025.94 213.89V154M1031.94 294.97V127M1037.94 279.76V138M1043.94 227.94V141M1049.94 240.33V153.5M1056.94 223.38V155M1062.94 272.17V160.5M1068.94 200.71V151M1074.94 263.73V162.5M1080.94 260.45V167M1086.94 213.99V164M1092.94 203.15V160.5M1099.94 263.08V155M1105.94 286.8V160M1111.94 295.25V161M1117.94 301.07V158M1123.94 282.34V156M1129.94 218.76V151M1135.94 240.25V139M1142.94 289.73V130M1148.94 301.11V125M1154.94 252.68V136.5M1160.94 270.79V120M1166.94 211.58V141.5M1172.94 274.73V146.5M1178.94 282.29V129M1185.94 271.12V120M1191.94 196.99V113M1197.94 274.34V131M1203.94 244.94V127M1209.94 213.61V138M1215.94 300.03V141M1221.94 217.94V143M1228.94 211.32V145M1234.94 268.71V158.5M1240.94 227.9V151M1246.94 265.62V154M1252.94 229.86V143M1258.94 268.79V151M1264.94 264.96V154M1271.94 210.68V159M1277.94 244.85V160M1283.94 277.42V153M1289.94 214.02V161.5M1295.94 201.11V165M1301.94 303.49V154M1307.94 240.08V137M1313.94 219.93V145M1320.94 249.6V141M1326.94 293.93V149M1332.94 219.99V126M1338.94 207.07V140.5M1344.94 224.89V141M1350.94 306.41V140M1356.94 220.88V135M1363.94 241.9V131M1369.94 267.25V142M1375.94 220.33V120M1381.94 210.09V125M1387.94 238.18V128M1393.94 220.49V126M1399.94 276.78V134.5M1406.94 301.55V134M1412.94 299.87V150M1418.94 252.61V151M1424.94 288.32V155"/>
<path d="M148.05 210V296.6M154.05 200V307.85M160.05 195.5V319.93M166.05 188V312.37M172.05 185V309.49M179.05 190V316.92M185.05 214V314.38M191.05 211V314.4M197.05 209.5V304.13M203.05 200V311.75M209.05 203V311.71M215.05 206V306.35M222.05 205.5V296.9M228.05 208V307.76M234.05 202V305.38M240.05 204.5V296.47M246.05 204V295.35M252.05 200V295.01M258.05 202V302.83M265.05 203V296.06M271.05 197.5V301.01M277.05 201V293.97M283.05 187V296.06M289.05 204V296.89M295.05 210V292.94M301.05 198V308.82M308.05 202V294.57M314.05 192V301.55M320.05 190.5V316.45M326.05 186V311.01M332.05 179V312.06M338.05 183V316.08M344.05 194V305.8M351.05 206V309.54M357.05 208V303.09M363.05 206V308.62M369.05 198V298.99M375.05 204V296.66M381.05 203V295.16M387.05 205V290.87M394.05 204V304.33M400.05 206V298.28M406.05 200V300.16M412.05 203.5V303.43M418.05 200V300.83M424.05 207.5V299.73M430.05 208V294.96M436.05 214V300.76M443.05 211V294.16M449.05 208V294.92M455.05 196V304.3M461.05 197.5V298.43M467.05 207V307.83M473.05 192V300.34M479.05 197V306.97M486.05 188V305.54M492.05 197V321.98M498.05 192V309.11M504.05 195.5V321.25M510.05 198V317.26M516.05 195V312.96M522.05 188V306.57M529.05 201.5V309.75M535.05 198V308.42M541.05 208V300.06M547.05 212V305.35M553.05 212V315.54M559.05 207.5V306.95M565.05 204V306.33M572.05 208.5V300.24M578.05 213V307.99M584.05 210V293.83M590.05 213V288.17M596.05 208V292.07M602.05 218V293.86M608.05 213V289.51M615.05 196V295.54M621.05 200V299.49M627.05 195.5V297.45M633.05 194V294.39M639.05 198.5V301.97M645.05 201V301.1M651.05 192V301.27M658.05 193.5V305.11M664.05 186V310.48M670.05 192.5V304.31M676.05 186V302.21M682.05 196V296.48M688.05 202.5V295.59M694.05 216V292.18M700.05 209.5V303.02M707.05 198V306.55M713.05 196V307.77M719.05 194V311.32M725.05 191.5V326.48M731.05 186V320.68M737.05 167V345.01M743.05 154V362.25M750.05 156V338.83M756.05 157.5V357.12M762.05 147V374.91M768.05 167.5V362.25M774.05 145V362.15M780.05 134V368.5M786.05 143.5V395.52M793.05 117V357.79M799.05 125V374.81M805.05 145.5V378M811.05 123V380.32M817.05 128.5V353.94M823.05 117V376.19M829.05 129V379.13M836.05 133V373.98M842.05 141.5V361.09M848.05 143V350.92M854.05 140.5V364.48M860.05 129V354.27M866.05 143V342.66M872.05 149V342.44M879.05 149.5V341.2M885.05 153V347.49M891.05 159V341.49M897.05 163V339M903.05 164.5V338.84M909.05 143V350.4M915.05 153V362.66M922.05 159.5V383.53M928.05 165V349.97M934.05 162.5V353.39M940.05 155V366.39M946.05 162.5V364.17M952.05 133V358.26M958.05 150.5V368.99M965.05 141V358.13M971.05 140.5V373.73M977.05 146V372.56M983.05 135V378.73M989.05 119V376.18M995.05 134.5V350.61M1001.05 143V362.71M1007.05 135.5V376.89M1014.05 119V362.84M1020.05 117V378.18M1026.05 154V347.32M1032.05 127V343.44M1038.05 138V346.64M1044.05 141V352.18M1050.05 153.5V345.39M1057.05 155V346.97M1063.05 160.5V351.64M1069.05 151V350.5M1075.05 162.5V345.49M1081.05 167V342.26M1087.05 164V332.65M1093.05 160.5V334.84M1100.05 155V339.42M1106.05 160V352.23M1112.05 161V344.88M1118.05 158V357.42M1124.05 156V348.59M1130.05 151V358.91M1136.05 139V364.57M1143.05 130V382.05M1149.05 125V366.93M1155.05 136.5V377.22M1161.05 120V353.77M1167.05 141.5V377.88M1173.05 146.5V355.63M1179.05 129V365.33M1186.05 120V354.27M1192.05 113V356.7M1198.05 131V357.23M1204.05 127V355M1210.05 138V346.33M1216.05 141V350.74M1222.05 143V346.04M1229.05 145V339.76M1235.05 158.5V342.26M1241.05 151V343.49M1247.05 154V348.11M1253.05 143V358.72M1259.05 151V351.64M1265.05 154V346.68M1272.05 159V345.47M1278.05 160V337.01M1284.05 153V336.76M1290.05 161.5V344.84M1296.05 165V365.52M1302.05 154V363.12M1308.05 137V364.97M1314.05 145V360.92M1321.05 141V359.73M1327.05 149V382.44M1333.05 126V375.46M1339.05 140.5V356.62M1345.05 141V374.47M1351.05 140V365.8M1357.05 135V350.9M1364.05 131V388.83M1370.05 142V375.03M1376.05 120V379.42M1382.05 125V369.62M1388.05 128V352.61M1394.05 126V367.13M1400.05 134.5V353.6M1407.05 134V350.87M1413.05 150V351.18M1419.05 151V342.72M1425.05 155V339.68"/>
<path d="M148.16 296.6V234.21M154.16 307.85V264.51M160.16 319.93V240.19M166.16 312.37V254.51M172.16 309.49V267.75M179.16 316.92V257.09M185.16 314.38V249.13M191.16 314.4V261.6M197.16 304.13V261.74M203.16 311.75V229.17M209.16 311.71V240.89M215.16 306.35V276.69M222.16 296.9V230.61M228.16 307.76V266.96M234.16 305.38V264.51M240.16 296.47V226.4M246.16 295.35V237.51M252.16 295.01V244.48M258.16 302.83V237.18M265.16 296.06V259.87M271.16 301.01V256.17M277.16 293.97V272.59M283.16 296.06V253.69M289.16 296.89V229.65M295.16 292.94V253.79M301.16 308.82V240.61M308.16 294.57V247.47M314.16 301.55V253.41M320.16 316.45V262.31M326.16 311.01V256.7M332.16 312.06V272.95M338.16 316.08V230.78M344.16 305.8V247.63M351.16 309.54V255.79M357.16 303.09V241.54M363.16 308.62V245.03M369.16 298.99V244.25M375.16 296.66V259.87M381.16 295.16V242.06M387.16 290.87V269.85M394.16 304.33V261.26M400.16 298.28V229.63M406.16 300.16V255.61M412.16 303.43V228.98M418.16 300.83V269.57M424.16 299.73V264.66M430.16 294.96V262.45M436.16 300.76V231.67M443.16 294.16V228.1M449.16 294.92V271.51M455.16 304.3V262.53M461.16 298.43V278.11M467.16 307.83V239.53M473.16 300.34V249.25M479.16 306.97V233.4M486.16 305.54V256.84M492.16 321.98V230.08M498.16 309.11V249.23M504.16 321.25V241.57M510.16 317.26V276.49M516.16 312.96V248.37M522.16 306.57V270.76M529.16 309.75V252.84M535.16 308.42V256.5M541.16 300.06V278.09M547.16 305.35V247.08M553.16 315.54V236.99M559.16 306.95V260.98M565.16 306.33V251.38M572.16 300.24V232.77M578.16 307.99V252.75M584.16 293.83V255.69M590.16 288.17V248.57M596.16 292.07V236.12M602.16 293.86V258.78M608.16 289.51V247.84M615.16 295.54V272.2M621.16 299.49V262.11M627.16 297.45V260.59M633.16 294.39V229.66M639.16 301.97V258.95M645.16 301.1V265.63M651.16 301.27V249.35M658.16 305.11V271.99M664.16 310.48V231.85M670.16 304.31V260.6M676.16 302.21V271.12M682.16 296.48V274.09M688.16 295.59V251.1M694.16 292.18V247.81M700.16 303.02V234.2M707.16 306.55V256.86M713.16 307.77V281.56M719.16 311.32V222.67M725.16 326.48V267.51M731.16 320.68V252.33M737.16 345.01V279.91M743.16 362.25V228.14M750.16 338.83V245.33M756.16 357.12V265.33M762.16 374.91V212.48M768.16 362.25V278.7M774.16 362.15V245.56M780.16 368.5V295.85M786.16 395.52V268.84M793.16 357.79V284.54M799.16 374.81V222.47M805.16 378V297M811.16 380.32V234.41M817.16 353.94V245.27M823.16 376.19V209.74M829.16 379.13V272.25M836.16 373.98V201.2M842.16 361.09V204.29M848.16 350.92V262M854.16 364.48V248.04M860.16 354.27V271.83M866.16 342.66V261.24M872.16 342.44V210.32M879.16 341.2V219.15M885.16 347.49V273.27M891.16 341.49V201.51M897.16 339V296.75M903.16 338.84V243.81M909.16 350.4V239.24M915.16 362.66V204.68M922.16 383.53V262.11M928.16 349.97V265.51M934.16 353.39V240.95M940.16 366.39V214.12M946.16 364.17V229.49M952.16 358.26V295.71M958.16 368.99V223.99M965.16 358.13V278.93M971.16 373.73V209.57M977.16 372.56V237.81M983.16 378.73V291.97M989.16 376.18V239.02M995.16 350.61V290.81M1001.16 362.71V263.75M1007.16 376.89V205.42M1014.16 362.84V296.35M1020.16 378.18V199.92M1026.16 347.32V277.25M1032.16 343.44V299.8M1038.16 346.64V257.74M1044.16 352.18V234.26M1050.16 345.39V283.38M1057.16 346.97V211.08M1063.16 351.64V296.66M1069.16 350.5V284.3M1075.16 345.49V256.95M1081.16 342.26V277.32M1087.16 332.65V269.2M1093.16 334.84V230.05M1100.16 339.42V218.83M1106.16 352.23V290.83M1112.16 344.88V223.46M1118.16 357.42V257.84M1124.16 348.59V283M1130.16 358.91V289.63M1136.16 364.57V262.19M1143.16 382.05V226.41M1149.16 366.93V266.4M1155.16 377.22V249.92M1161.16 353.77V302.77M1167.16 377.88V299.68M1173.16 355.63V290.07M1179.16 365.33V252.35M1186.16 354.27V250.19M1192.16 356.7V281.56M1198.16 357.23V256.77M1204.16 355V275.38M1210.16 346.33V204.17M1216.16 350.74V202.35M1222.16 346.04V236.18M1229.16 339.76V202.97M1235.16 342.26V208.79M1241.16 343.49V259.73M1247.16 348.11V297.66M1253.16 358.72V304.63M1259.16 351.64V203.53M1265.16 346.68V287.09M1272.16 345.47V228.8M1278.16 337.01V239.14M1284.16 336.76V219.02M1290.16 344.84V208.8M1296.16 365.52V258.38M1302.16 363.12V222.31M1308.16 364.97V253.78M1314.16 360.92V211.73M1321.16 359.73V246.15M1327.16 382.44V304.79M1333.16 375.46V248.85M1339.16 356.62V284.74M1345.16 374.47V280.65M1351.16 365.8V280.18M1357.16 350.9V300.81M1364.16 388.83V303.23M1370.16 375.03V241.52M1376.16 379.42V229.88M1382.16 369.62V237.53M1388.16 352.61V302.81M1394.16 367.13V243.39M1400.16 353.6V263.19M1407.16 350.87V206.07M1413.16 351.18V297.73M1419.16 342.72V255.86M1425.16 339.68V224.1"/>
</g>
<pattern id="w" width="61" height="53" patternUnits="userSpaceOnUse"><path class="n" d="M7 0.5h2M29 0.5h1M31 0.5h1M48 0.5h1M27 1.5h1M51 1.5h1M7 2.5h2M12 2.5h1M34 2.5h1M38 2.5h1M57 2.5h2M21 3.5h1M55 3.5h1M3 4.5h1M51 4.5h1M59 4.5h1M5 5.5h1M10 5.5h1M59 5.5h1M22 6.5h1M41 6.5h1M1 7.5h1M9 7.5h1M33 7.5h1M39 7.5h1M46 7.5h1M29 8.5h1M48 8.5h1M52 8.5h2M1 9.5h1M28 9.5h1M34 9.5h1M36 9.5h1M56 9.5h1M59 9.5h1M22 10.5h1M58 10.5h1M10 11.5h2M16 11.5h1M38 11.5h2M49 11.5h1M51 11.5h1M0 12.5h1M12 12.5h1M21 12.5h1M24 12.5h1M50 12.5h1M16 13.5h1M18 13.5h1M38 13.5h1M22 14.5h1M34 14.5h1M43 15.5h1M50 15.5h1M57 15.5h1M4 16.5h1M27 16.5h1M29 16.5h1M33 17.5h1M36 17.5h1M48 17.5h1M55 17.5h1M1 19.5h1M4 19.5h3M8 19.5h1M12 19.5h1M29 19.5h1M47 19.5h1M39 20.5h1M60 20.5h1M17 21.5h1M49 21.5h1M11 22.5h1M27 22.5h1M0 23.5h1M8 23.5h1M20 24.5h1M46 24.5h1M53 24.5h1M0 25.5h1M14 25.5h1M23 25.5h1M29 25.5h1M31 25.5h1M59 26.5h1M2 27.5h1M30 27.5h1M35 27.5h1M37 27.5h1M39 27.5h1M57 27.5h1M0 28.5h1M26 28.5h1M39 28.5h1M41 28.5h1M56 28.5h1M7 29.5h1M16 29.5h1M20 29.5h2M28 29.5h1M1 30.5h1M21 30.5h1M27 30.5h1M45 30.5h1M53 30.5h3M59 30.5h1M7 31.5h1M60 31.5h1M25 32.5h1M47 32.5h1M50 32.5h1M4 33.5h1M6 33.5h1M37 33.5h1M42 33.5h1M56 33.5h1M37 34.5h1M49 34.5h1M43 35.5h1M60 35.5h1M26 36.5h1M43 36.5h1M44 37.5h2M10 38.5h1M18 38.5h1M49 38.5h1M10 39.5h1M39 39.5h2M7 40.5h1M40 40.5h1M42 40.5h1M52 40.5h1M3 41.5h2M36 41.5h1M42 41.5h1M12 42.5h1M27 42.5h1M2 44.5h1M27 44.5h1M30 44.5h1M52 44.5h1M2 45.5h1M18 45.5h1M25 45.5h1M31 45.5h1M7 46.5h1M11 46.5h1M42 46.5h1M51 46.5h1M13 47.5h2M24 47.5h1M54 47.5h1M23 48.5h1M19 49.5h1M21 49.5h1M49 49.5h1M9 50.5h1M48 50.5h1M2 51.5h1M8 51.5h1M17 51.5h1M20 51.5h1M24 51.5h1M53 51.5h2M2 52.5h3M10 52.5h1M15 52.5h1M23 52.5h1" stroke="#fff" stroke-width="1"/><path class="n" d="M4 0.5h1M11 0.5h1M19 0.5h1M23 0.5h1M26 0.5h1M34 0.5h1M38 0.5h1M42 0.5h1M47 0.5h1M50 0.5h1M57 0.5h1M1 1.5h1M3 1.5h1M8 1.5h1M18 1.5h1M34 1.5h1M36 1.5h1M38 1.5h1M41 1.5h1M43 1.5h1M46 1.5h1M50 1.5h1M52 1.5h1M9 2.5h3M13 2.5h1M26 2.5h1M33 2.5h1M47 2.5h1M50 2.5h1M56 2.5h1M59 2.5h1M0 3.5h1M2 3.5h3M12 3.5h1M14 3.5h2M17 3.5h1M20 3.5h1M22 3.5h2M28 3.5h1M31 3.5h1M38 3.5h1M49 3.5h1M51 3.5h2M56 3.5h1M58 3.5h1M0 4.5h1M4 4.5h1M7 4.5h1M9 4.5h1M12 4.5h1M14 4.5h1M18 4.5h1M26 4.5h1M34 4.5h1M39 4.5h1M44 4.5h1M46 4.5h1M55 4.5h1M57 4.5h1M60 4.5h1M0 5.5h2M3 5.5h1M6 5.5h2M12 5.5h2M15 5.5h1M24 5.5h1M29 5.5h1M32 5.5h1M34 5.5h2M38 5.5h1M46 5.5h1M51 5.5h2M55 5.5h2M0 6.5h2M6 6.5h1M14 6.5h1M17 6.5h2M23 6.5h1M29 6.5h1M33 6.5h2M38 6.5h1M43 6.5h1M47 6.5h1M50 6.5h2M53 6.5h1M0 7.5h1M3 7.5h1M10 7.5h1M12 7.5h1M17 7.5h1M20 7.5h1M26 7.5h1M34 7.5h1M42 7.5h1M45 7.5h1M47 7.5h1M50 7.5h1M52 7.5h1M55 7.5h1M3 8.5h1M5 8.5h1M8 8.5h1M12 8.5h1M17 8.5h1M23 8.5h1M37 8.5h1M41 8.5h1M43 8.5h1M57 8.5h1M8 9.5h1M12 9.5h1M17 9.5h1M20 9.5h1M25 9.5h2M29 9.5h1M32 9.5h1M35 9.5h1M39 9.5h1M44 9.5h1M48 9.5h2M2 10.5h1M4 10.5h2M7 10.5h1M10 10.5h1M18 10.5h1M20 10.5h1M24 10.5h1M28 10.5h1M36 10.5h3M42 10.5h2M56 10.5h2M59 10.5h2M4 11.5h1M9 11.5h1M14 11.5h1M21 11.5h1M24 11.5h1M29 11.5h2M35 11.5h2M50 11.5h1M59 11.5h1M14 12.5h2M27 12.5h1M37 12.5h1M39 12.5h1M42 12.5h1M53 12.5h1M56 12.5h1M4 13.5h1M6 13.5h1M10 13.5h1M15 13.5h1M23 13.5h1M27 13.5h1M33 13.5h1M35 13.5h2M39 13.5h1M41 13.5h1M44 13.5h1M50 13.5h2M54 13.5h1M57 13.5h1M60 13.5h1M1 14.5h1M5 14.5h1M9 14.5h1M15 14.5h2M19 14.5h1M28 14.5h1M32 14.5h1M43 14.5h1M53 14.5h1M55 14.5h2M60 14.5h1M6 15.5h1M19 15.5h1M24 15.5h1M28 15.5h2M35 15.5h1M37 15.5h2M44 15.5h1M53 15.5h1M59 15.5h1M1 16.5h1M5 16.5h1M8 16.5h1M14 16.5h1M20 16.5h2M25 16.5h1M28 16.5h1M30 16.5h3M38 16.5h1M43 16.5h2M47 16.5h1M53 16.5h2M56 16.5h1M2 17.5h1M6 17.5h3M17 17.5h1M22 17.5h1M25 17.5h3M30 17.5h1M34 17.5h2M37 17.5h4M45 17.5h1M47 17.5h1M3 18.5h1M8 18.5h1M12 18.5h2M17 18.5h3M21 18.5h2M26 18.5h1M29 18.5h1M31 18.5h1M33 18.5h1M36 18.5h1M39 18.5h1M41 18.5h1M48 18.5h1M57 18.5h1M14 19.5h1M17 19.5h1M20 19.5h1M22 19.5h1M30 19.5h1M37 19.5h1M42 19.5h2M45 19.5h2M48 19.5h1M2 20.5h1M8 20.5h1M19 20.5h1M28 20.5h1M32 20.5h1M37 20.5h1M50 20.5h1M53 20.5h1M59 20.5h1M4 21.5h2M23 21.5h1M26 21.5h2M38 21.5h1M53 21.5h1M57 21.5h2M3 22.5h1M9 22.5h1M12 22.5h1M18 22.5h3M25 22.5h1M29 22.5h1M33 22.5h1M46 22.5h1M48 22.5h1M55 22.5h1M58 22.5h1M6 23.5h1M14 23.5h1M16 23.5h2M24 23.5h1M29 23.5h1M33 23.5h1M49 23.5h1M60 23.5h1M0 24.5h1M3 24.5h4M8 24.5h1M23 24.5h1M48 24.5h1M51 24.5h2M57 24.5h2M60 24.5h1M3 25.5h1M18 25.5h2M22 25.5h1M24 25.5h2M28 25.5h1M32 25.5h1M37 25.5h1M41 25.5h1M43 25.5h1M45 25.5h2M55 25.5h1M57 25.5h1M2 26.5h1M9 26.5h2M18 26.5h1M24 26.5h2M27 26.5h1M29 26.5h1M35 26.5h2M42 26.5h1M50 26.5h1M56 26.5h1M1 27.5h1M11 27.5h1M17 27.5h2M23 27.5h1M31 27.5h2M34 27.5h1M49 27.5h1M55 27.5h2M3 28.5h1M10 28.5h1M19 28.5h1M22 28.5h2M32 28.5h1M34 28.5h1M38 28.5h1M45 28.5h1M52 28.5h2M58 28.5h3M13 29.5h1M15 29.5h1M17 29.5h3M25 29.5h2M31 29.5h1M37 29.5h1M40 29.5h2M55 29.5h1M58 29.5h1M0 30.5h1M17 30.5h1M20 30.5h1M23 30.5h1M39 30.5h2M44 30.5h1M46 30.5h1M52 30.5h1M57 30.5h1M12 31.5h1M15 31.5h1M20 31.5h1M27 31.5h1M31 31.5h1M48 31.5h1M51 31.5h1M53 31.5h1M55 31.5h2M58 31.5h1M0 32.5h1M3 32.5h1M8 32.5h1M10 32.5h1M13 32.5h1M23 32.5h1M29 32.5h1M31 32.5h1M37 32.5h1M48 32.5h1M51 32.5h1M53 32.5h1M57 32.5h1M60 32.5h1M2 33.5h2M7 33.5h1M9 33.5h2M21 33.5h1M24 33.5h1M26 33.5h1M41 33.5h1M44 33.5h2M53 33.5h1M4 34.5h1M11 34.5h1M15 34.5h1M21 34.5h1M28 34.5h1M33 34.5h1M36 34.5h1M38 34.5h2M51 34.5h1M54 34.5h1M60 34.5h1M6 35.5h1M19 35.5h2M22 35.5h1M34 35.5h3M47 35.5h1M50 35.5h2M54 35.5h1M56 35.5h2M1 36.5h2M4 36.5h2M7 36.5h2M12 36.5h1M14 36.5h1M18 36.5h1M22 36.5h1M37 36.5h2M41 36.5h1M44 36.5h1M51 36.5h1M53 36.5h1M2 37.5h1M6 37.5h1M9 37.5h2M17 37.5h1M22 37.5h2M30 37.5h2M36 37.5h1M42 37.5h1M48 37.5h2M56 37.5h1M2 38.5h1M4 38.5h1M6 38.5h1M8 38.5h2M12 38.5h2M22 38.5h1M25 38.5h1M28 38.5h1M33 38.5h1M44 38.5h2M50 38.5h1M52 38.5h1M57 38.5h1M0 39.5h1M15 39.5h2M26 39.5h1M32 39.5h2M36 39.5h1M41 39.5h1M44 39.5h1M47 39.5h1M49 39.5h1M55 39.5h1M10 40.5h1M23 40.5h1M25 40.5h1M28 40.5h1M30 40.5h1M32 40.5h3M36 40.5h1M38 40.5h1M44 40.5h1M48 40.5h2M54 40.5h1M56 40.5h1M0 41.5h2M15 41.5h1M17 41.5h1M24 41.5h1M28 41.5h1M30 41.5h1M32 41.5h2M39 41.5h1M44 41.5h3M50 41.5h1M58 41.5h1M60 41.5h1M4 42.5h3M8 42.5h1M14 42.5h1M17 42.5h1M26 42.5h1M29 42.5h1M32 42.5h1M38 42.5h1M41 42.5h1M44 42.5h1M50 42.5h2M53 42.5h2M58 42.5h1M1 43.5h2M8 43.5h1M10 43.5h1M14 43.5h3M18 43.5h1M23 43.5h1M27 43.5h1M56 43.5h1M3 44.5h1M5 44.5h1M8 44.5h1M16 44.5h1M20 44.5h1M23 44.5h1M25 44.5h1M38 44.5h2M41 44.5h1M46 44.5h1M53 44.5h3M57 44.5h1M59 44.5h1M8 45.5h2M14 45.5h2M20 45.5h1M40 45.5h1M45 45.5h2M48 45.5h1M3 46.5h1M5 46.5h1M8 46.5h1M16 46.5h1M24 46.5h1M26 46.5h1M29 46.5h1M39 46.5h1M43 46.5h2M49 46.5h1M52 46.5h1M55 46.5h1M57 46.5h4M0 47.5h1M5 47.5h2M15 47.5h1M37 47.5h1M46 47.5h2M50 47.5h1M53 47.5h1M58 47.5h1M60 47.5h1M1 48.5h2M4 48.5h1M20 48.5h1M25 48.5h1M28 48.5h2M35 48.5h1M47 48.5h1M49 48.5h1M53 48.5h1M56 48.5h1M0 49.5h2M7 49.5h1M15 49.5h1M20 49.5h1M22 49.5h2M26 49.5h1M28 49.5h1M31 49.5h1M36 49.5h1M38 49.5h1M44 49.5h2M58 49.5h1M0 50.5h1M10 50.5h1M12 50.5h2M18 50.5h2M21 50.5h1M23 50.5h1M25 50.5h1M28 50.5h1M37 50.5h4M44 50.5h1M51 50.5h1M55 50.5h1M57 50.5h1M0 51.5h1M3 51.5h3M7 51.5h1M11 51.5h1M15 51.5h1M23 51.5h1M27 51.5h1M33 51.5h1M41 51.5h2M45 51.5h1M47 51.5h2M51 51.5h1M0 52.5h1M9 52.5h1M12 52.5h1M17 52.5h1M21 52.5h1M25 52.5h1M27 52.5h2M31 52.5h1M36 52.5h3M45 52.5h2M55 52.5h1M59 52.5h1" stroke="#fff" stroke-width="1" stroke-opacity=".5"/></pattern>
<path class="n" d="M143.5 216 690 217 705 214 730 200 760 183 790 175 1434 174 1434 332 790 331 760 323 730 308 705 295 690 292 143.5 293Z" fill="url(#w)" stroke="none"/>
</g>
<path d="M146.2 216.5V285" stroke="#0000ff" stroke-width="3.8" stroke-dasharray="5 1.2 3 1.6 6.5 1 2.5 1.4" opacity=".82" fill="none"/>
<path d="M146.3 593.1 147.1 652.4 148.4 609.1 149.7 634.7 150.4 612.2 151.3 635.4 153 621.1 153.7 630.3 154.6 616 156.3 632.6 157.6 615.8 158.7 639.7 159.9 617.1 161.3 638.8 162.3 621 163.2 638.3 164.7 619.9 166.1 643.9 167.3 614.4 168.9 633.7 170.2 619.5 171.9 633.8 172.8 620.1 174.1 633.9 175.3 619.6 176.4 635.4 177.7 620 178.6 626.8 180.2 623 181.8 627.5 182.6 620.4 183.8 627.9 184.8 622.3 185.6 631.2 187.2 620 188.4 634 189.2 621.5 190.7 632.4 191.6 618.7 193.2 628.5 194.1 621.4 194.9 626.3 195.8 619.6 196.8 631.2 198 611.5 199.7 626.8 201.1 622.1 202.2 627.4 202.9 617.2 203.8 626.1 205.5 620 206.7 629.8 208.1 622.5 208.9 629.1 209.6 624.1 211.2 625.4 212.5 623.2 213.5 626.4 214.6 624.1 215.4 626 216.3 624.3 217 626.7 218.6 622.3 219.7 627.5 220.6 622.3 222.1 625.4 223 623.4 223.7 627.2 225.1 623.1 226.7 626.9 227.4 624.1 229 625.6 229.9 624.1 230.7 625.7 231.4 623.4 232.4 626.6 233.9 622.3 235.1 628.4 236.7 622.8 237.6 626.4 238.6 621.8 239.6 628.5 241.3 623.4 243 631.2 244.1 614.4 245.2 634 246.3 619.1 247.7 627.8 248.5 622.8 249.3 634.2 250.4 614.8 251.3 633.8 252.9 605.9 254.4 639.7 255.7 619.6 257.1 626.8 258.5 622.4 260 630.4 261.7 614.4 262.6 634 263.9 622.4 264.8 627.2 265.9 621.3 267.5 628.8 269.1 620 270.6 626.2 271.3 620.5 272.4 628.7 273.3 619 275 625.7 275.9 620.5 276.8 629.8 277.9 617.2 278.7 626.7 280.3 622.2 281.7 626.5 282.5 622.9 283.7 627.1 284.5 621.9 285.9 626.1 286.8 620 287.5 632.6 288.4 622.8 289.7 628.6 291 617.5 292.1 632.9 293.4 612.9 294.5 641.1 295.3 620.7 296.4 637.7 297.5 611.5 299.2 641.1 300 607.3 300.8 627.1 302.1 620.3 303.8 637.5 305.4 613 306.9 636.9 307.6 611.5 309.2 631.3 310.6 615.5 311.4 630.8 312.6 616.4 313.4 632.9 314.9 619.6 316.4 632.6 317.9 617.2 319.4 625.8 320.4 620.1 321.9 631 322.9 623.6 323.7 630.4 324.8 622.3 326.1 626.1 327.1 621.4 328.4 629.8 329.7 621 330.7 625.6 332 621.3 333.1 628.3 334.6 621.9 335.6 628.2 337.1 618.6 338.3 629.1 339.5 617.6 341 632.6 342.2 615.8 343.2 629.7 344.9 619.5 345.7 630.3 346.7 620.2 348 627.2 348.7 621.7 349.6 635.4 351.1 612.9 352.7 630.7 354 613.1 355.7 631.9 357.2 622.1 358.2 631 359.6 621.7 360.6 637.9 362.1 611 363.2 641.1 364.1 618.4 365.7 632.6 367.1 612.9 368.6 635.4 369.9 621.2 371.4 626.5 372.6 618 373.9 628.2 374.6 623.9 375.9 631.2 377.5 621.4 378.9 626.8 380.5 621.8 381.7 628.4 383.3 623.7 384.1 625.8 385.7 621.4 386.8 627 387.6 622.8 389 626.3 390.2 621 391.3 627.2 392.9 622.7 393.8 629.8 395.1 614.4 396.2 630.1 397.5 616.5 398.7 630.4 399.6 619.1 400.8 633.7 402.4 615.1 403.3 629.1 404 613.6 404.8 641.1 405.9 608.7 407.7 635.4 408.4 622.3 410.2 631.7 411.4 613.5 412.2 632.1 413.4 612.9 414.3 638.3 415.7 619.9 417 633 418 616.5 419 632.5 420.6 618.2 422.1 632.9 423.3 618.5 424.4 626.5 425.9 614.4 427.6 636.9 428.4 617.9 429.2 631.4 430.3 616.6 431.5 627.5 432.3 619.4 433.1 626.2 434 618.8 435.1 635.4 436.6 614.4 437.9 633.7 438.7 619 439.4 631.5 440.6 623.6 442.2 629.5 443.9 617.3 444.9 626.1 446.6 621 448.2 634 449.4 615.8 450.9 631 451.9 622.5 452.8 633.5 454.1 622.7 454.9 631.5 456.3 616.5 457.8 632.3 459.5 614.4 460.7 638.3 461.5 622.5 463.1 629.5 464.8 621.1 466.5 635.1 467.8 618.1 469.2 636.9 470.3 614.4 471.2 626.9 472.2 622.2 473.7 635 474.7 620.2 476.1 628.9 477.4 616.8 478.5 627.8 480.2 614.4 481.1 639.7 482.3 623.6 483.2 628.1 484.9 622.7 486.1 626.5 487.1 620.2 488 628.9 489.3 617.2 490.5 632.6 491.3 621.4 492 626.8 493.1 623.1 494.4 626.1 495.7 623.2 497.3 632.6 499 615.8 500.7 630 502.2 618.2 503.4 630.1 504.7 614.7 505.8 626.4 506.9 615.3 507.6 627.9 509.2 621.9 510.1 630.5 510.9 617.3 512.1 627.4 513.5 608.1 514.7 635.4 515.8 622.8 517.2 632.7 518 617.3 518.7 634.7 520.1 620.6 521.3 628.9 522.9 614.4 524.1 637.7 525.6 617.2 526.3 627.9 527 621.5 528.4 628.9 529.3 617.7 530.1 630.1 530.9 618.8 532 629 533.1 618.2 534.3 631.2 536 617.2 537.1 626.2 538 623.3 539.3 628.4 540 620.6 541.1 627.1 542.1 623.1 543.2 627.7 544 621.9 545.2 625.6 546.6 621.8 548.1 628.2 549.8 621.4 550.9 625.7 552.2 623.1 553.4 628.5 554.3 619.2 556 631.2 557.5 617.2 559.1 629 560.7 618.1 562.4 629 563.2 617.7 563.9 627.8 564.8 616.3 566 631.9 567.4 620.9 568.5 636.9 569.8 614.4 571.3 634.4 572.1 621.8 573.5 629.4 574.2 618.9 575.2 632.2 576.6 619.8 578.1 630.2 579.2 618.8 580.2 628.8 581.8 617.2 582.8 632.6 583.5 622.6 584.4 629 585.2 618 586.7 628.6 587.5 613.8 589.3 631.2 590.2 617.5 591.2 628.1 592.5 617.5 593.6 628.2 594.7 619.5 595.5 626.7 596.6 623.3 597.3 625.7 598.2 622.3 599.9 626.4 600.9 621.4 601.9 628.4 603.3 623.2 604.9 628.6 605.9 621.8 607 626.4 608.5 618.5 610 629.8 611.3 615.8 612.2 626 613.1 616.9 614.6 628.9 616.1 618.6 617.7 626.6 619.2 620.2 620.4 628.3 621.2 614.4 622.8 636.9 624.3 622.7 625.6 632.5 627 619.1 628.1 636 629.1 617.8 630.5 639.7 631.7 614.9 633.1 628.7 634.8 622.9 636.4 630.7 637.5 620.5 638.6 632.8 640.2 614.4 641.4 635.4 642.9 623.3 643.7 627.3 644.9 621.7 646.1 631.6 647.7 620 649.3 627.6 650.1 623.6 651.5 627 652.9 618.6 653.7 629.8 655.3 621.8 656.6 626.2 658.3 623.4 659.2 629.2 660.4 622.3 661.5 631.7 662.8 622.1 664.2 630.9 665.4 615.8 666.5 635.4 667.7 620.4 668.8 629.7 670.4 621.1 671.6 626.5 672.8 615.9 673.8 628.4 674.7 614.9 676.4 636.9 677.5 622.2 679.1 632.9 680.4 619.4 682.1 636.8 683 611 684.7 641.1 686.2 608.1 687.5 636.8 688.9 615.8 690.4 630.4 691.6 617.7 692.9 626.7 693.9 615 694.6 634 696 614.4 697.2 631.2 698.9 619 699.8 631.2 701.4 623.1 703.1 625.9 704.8 622.4 706.5 628.4 707.4 622.3 708.2 626.9 709.2 621.2 710.2 628.3 711.1 620.4 711.9 627.2 712.6 622.1 714.3 628.8 715.4 622.9 716.8 631.7 717.9 611.5 719.4 639.7 721 618 722.1 636.8 723.3 618.8 724.1 638.3 725.1 610.6 726.1 643.9 727.1 597.4 728.1 637.1 729.4 593.6 730.5 633.6 731.5 600.6 733.1 644.3 733.8 571.9 734.5 660.9 735.3 597 736.9 644.4 738.3 609.5 739.7 641.6 741.4 591.7 742.4 641.1 744 597.7 745 632.2 746.2 615 747.6 632.3 749.2 596.8 750.1 652.4 751.3 603.1 752.1 633.6 753.1 603.8 754.8 629 756.5 614.9 757.8 636.9 759.3 607.3 760.9 630.1 762 619.8 763.7 627.9 764.9 619.4 765.8 639.7 767 606.4 768.3 629.4 769.8 620.9 771.2 640.9 771.9 598.8 773.3 642.5 775 602.9 776.4 639.7 778.1 596.8 779.3 652.4 780.9 605.5 781.7 634 783.4 597.9 784.5 641.1 786.1 616.2 787.2 652.9 788.5 578.9 790.1 675.1 791.6 589.7 792.9 630.4 794.6 607.5 795.4 644.5 796.2 601.6 797.5 636.2 799.2 617.8 800.6 643 801.7 616.8 802.5 629.9 803.6 610.1 804.9 645.4 806 605.9 807.4 640.2 808.4 621.1 810 636 811 615.2 811.8 630.2 812.9 608.7 814.6 643.9 815.4 619.4 816.4 632.9 818.1 613.2 819.2 630 820.8 619.8 821.5 642.2 823.1 615.1 824.1 634 825 601.6 826.4 645.4 828.2 619 829.9 637 831.4 606.5 833 642.4 834.8 604.4 836.1 646.8 836.9 610.2 838.5 631.1 839.6 611.4 840.7 646.5 841.9 597.9 842.6 658.1 843.3 610.6 844.3 634.3 845.6 616.6 847.1 631.4 848.8 606.4 850.4 641.1 852.1 616.7 853.4 634 854.9 611.5 856.2 627.6 857 618.7 857.8 632.3 859.3 623.5 860.2 629.7 861.7 621.8 862.9 631.2 863.6 620 864.9 627.9 866.1 621.7 866.8 626.1 867.8 614.9 868.8 629.8 869.9 620.3 871.3 626.1 872.2 622.2 873.4 629 874.7 621.8 876.4 627.9 877.2 620.4 878 627.4 878.9 622.2 879.9 626.3 880.7 614.4 881.5 634 882.4 617.7 883.4 632.7 884.6 615.1 885.9 639.7 887 607.2 887.9 634.7 888.7 600.7 889.7 649.4 890.6 594 891.8 658.7 893.4 605.5 894.8 647.8 895.7 612.4 896.5 635.1 897.3 614.8 898.4 641.1 899.5 614.9 900.9 636.9 901.7 620.6 902.7 637.1 904.1 615.7 905.4 641.1 906.6 614.9 908.3 633.5 909.1 618.5 910 628.1 911.3 618.6 912.6 626.7 914.3 619 916 639.7 917.4 614.9 918.9 631.4 920.3 622.4 921.1 632.4 922.5 621 923.5 627.6 924.6 619 925.4 630.1 926.1 620.2 927.7 631.7 929.2 614.4 930.7 635.4 931.7 616.3 932.8 633.9 933.7 622.3 935 633.8 936.6 619.3 938.1 634.5 939.8 612.1 940.8 644.5 942.2 614.6 943 645.6 944.3 619 945.1 628.3 946.4 618.1 947.7 641.9 948.7 595.9 949.8 659.5 951.2 620.7 952.4 637.1 953.6 614.5 954.4 637.5 955.4 620.3 957 652.4 958.7 614.4 959.8 646.4 961.4 623.6 963 629.8 964 617.7 964.9 634.8 966.4 616.7 967.4 636.9 969.1 614.9 970.2 630.8 971.6 618.2 973.1 628.1 974 615.8 975.6 628.1 976.7 618.6 977.5 634 978.2 614.4 979.4 630.8 980.8 619.6 981.8 630.8 983.3 616.8 984.3 636.5 985.9 617.5 986.6 638.3 987.6 608.7 988.5 641.1 989.7 618.8 990.7 634.4 991.8 622 993.4 631.9 994.7 595.9 996.1 645.4 997.2 616.1 998.7 631.5 1000 595.9 1001.4 672.3 1003.1 610.9 1004.5 637.1 1005.6 614.4 1006.6 648.2 1008.2 619.9 1009.7 638.3 1011.3 608.7 1012.2 636.9 1013.4 619.2 1015 628.8 1016 622.8 1017.5 631.6 1018.8 623.4 1019.7 626.6 1020.8 615.8 1021.6 632.6 1023 619.8 1024.5 628.1 1025.2 620.6 1026.2 628.6 1027.7 623 1028.6 626 1029.9 614.4 1031.4 635.4 1032.7 607.3 1033.6 634.8 1035.2 616.9 1036.7 638.3 1038 614.4 1039 629.7 1040.4 615.7 1041.5 633.5 1042.3 620.2 1043.1 630.9 1043.9 620.3 1044.7 635.4 1045.7 608.7 1047.1 634.3 1048.4 614.3 1049.7 646.8 1051.3 605 1052.1 663.2 1053.2 601.6 1054 645.1 1055.1 614.5 1055.9 641.3 1056.6 601.6 1057.5 629.3 1058.6 614.3 1060.1 632 1061.1 611.5 1062.5 634 1063.5 619.3 1064.5 632.3 1065.7 614.5 1066.5 630.5 1067.6 614.4 1068.9 634 1070.5 623.3 1071.3 628.1 1072.8 622.6 1074.1 628.2 1075.4 619.6 1076.2 627.6 1077.8 620 1078.8 632.6 1080.1 621 1081.3 628.8 1083 617 1084.3 626.7 1086 612.9 1087 634 1088.4 619.5 1089.7 634 1090.9 620.9 1092.3 631.3 1093.6 620 1094.6 632.1 1096 610.2 1096.8 638.3 1098 608.7 1099.2 637.8 1100.1 616.2 1101.4 627.5 1102.8 619.3 1103.6 627.7 1104.6 616.9 1105.4 629.3 1106.7 610.1 1107.5 643.9 1108.4 617.6 1109.6 638.7 1110.8 612.8 1111.5 637.3 1113.2 610.9 1114.2 634.2 1115.5 604.4 1116.4 641.1 1117.8 621 1118.8 636.1 1119.9 616.8 1121.1 634 1122.4 614.4 1123.7 631.9 1125.1 623.6 1126.1 630.6 1126.9 622.3 1127.9 627 1128.9 623.2 1130.3 632.6 1131.4 618.6 1132.4 625.8 1133.2 622.1 1134.5 626.1 1135.4 619.8 1136.6 632.1 1138 622 1139.4 631 1140.3 613.7 1141.3 632.4 1143 611.5 1143.8 634 1145.2 616.9 1146.4 629.8 1147.7 607.4 1148.8 631.2 1149.7 618.8 1151 639.7 1151.7 602.5 1153.3 637 1154.8 621 1155.9 627.2 1157.2 610.5 1158.4 642.5 1160.1 604.4 1160.9 635.7 1161.9 610.5 1163 648.2 1164.6 595.9 1166 631.6 1167.2 610.7 1167.9 629.8 1169.3 604.8 1170.4 638.1 1171.2 610.1 1172.6 628.9 1173.7 609.3 1174.8 639.7 1175.7 615.9 1177 635.9 1178 618 1179.1 627.4 1180.8 620.3 1182 634 1182.9 611.5 1184.2 627.2 1185.8 618.6 1187.4 628 1188.9 619.3 1190.5 635.2 1192 620.9 1193.4 641.1 1194.6 617.2 1195.4 637 1196.9 616.4 1198.3 634.5 1200 611.5 1201 641.1 1202.6 616.3 1203.6 640.4 1205.2 614.5 1207 629.7 1207.7 603 1208.8 642.5 1210.5 608 1212.2 629.7 1213.7 603.5 1214.5 637.1 1215.2 595.9 1216.2 648.2 1217.9 615.5 1219.4 643.3 1220.5 618.8 1222 637.3 1223.7 616.8 1224.7 639.7 1226.3 604.4 1227.3 632.6 1228.4 621.7 1229.1 626.9 1230 613.8 1231.3 631.7 1232 619 1233.2 629.8 1234.1 617.2 1235.6 626.5 1236.4 621.2 1237.4 631.2 1238.3 614.4 1239.7 628.5 1241.2 623 1242.7 627.1 1244.2 620.9 1245.6 626 1246.9 618.6 1247.9 631.2 1248.8 622 1250.4 629 1251.5 623.1 1252.9 627 1253.7 618.4 1254.8 632.2 1255.6 622.5 1256.7 636.9 1258.1 610.1 1259.2 633.8 1260.6 616.6 1261.4 633.6 1262.5 611.9 1263.7 632.1 1264.9 619.5 1265.8 638 1267.3 611.5 1268.9 645.4 1270.5 614.8 1271.2 629.1 1272.4 611.5 1273.5 632.7 1274.8 618.7 1275.6 634.2 1277 614.4 1278.2 632.9 1279.8 615.1 1280.6 636.9 1281.7 605.9 1282.9 631.6 1284.5 611.9 1286 632 1286.9 617.8 1287.9 633.3 1289.4 619.3 1290.5 632.7 1291.5 617.2 1293.2 634 1294.7 620.7 1295.8 633.1 1297.1 617.4 1298.8 630.6 1299.7 611.5 1301.4 635.4 1303 607.3 1304.4 630.4 1305.9 615.6 1307.3 629.6 1308.6 613.6 1309.9 634.8 1310.8 621.2 1312.1 636.9 1313.5 606.4 1314.7 636.5 1316.1 620.5 1317.3 637.5 1318.8 614.5 1320.3 641.1 1321.1 607.3 1322.6 629.2 1323.6 613.8 1324.4 632.5 1325.2 618.3 1326.2 646.8 1327.5 608.1 1328.5 632.4 1329.4 615.1 1331 633.1 1332 617.2 1333.7 633.1 1334.6 617.2 1336 632.6 1337.1 622.2 1338.7 627.4 1340.1 622.2 1341.5 626.5 1342.3 618.4 1343.8 626.6 1344.9 623.1 1346.3 631.2 1347.9 618.6 1348.8 626 1349.5 619.3 1351 626.7 1352.7 619.5 1354.3 633.3 1355.5 612.4 1357.1 634.7 1357.8 606.4 1358.5 638.3 1359.9 610.1 1361.1 630.8 1362.7 619.4 1363.6 641.1 1364.8 606.4 1366.5 646.1 1367.6 594 1368.7 658.1 1370 597.5 1371.8 642.1 1372.7 606.5 1374.1 641.8 1375.2 601.7 1376.3 631.7 1377.3 588.3 1378.5 663.2 1379.8 606.3 1380.9 645.5 1382.2 604.6 1383.5 646.9 1385.1 603 1386.4 643.9 1387.5 607.2 1389.2 634.8 1390.1 606.3 1390.8 633.5 1392.5 607 1393.5 641.1 1394.3 603 1395.4 637.7 1396.5 607.9 1397.6 637.9 1399.2 600.2 1400.2 639.7 1401 609.7 1401.9 636.3 1403.6 613.6 1404.8 630.9 1405.9 620.9 1407.4 636 1409.1 599.6 1410.3 641.1 1411.9 609.9 1412.8 635.4 1413.9 610.8 1415.2 636.9 1416.2 610.9 1417.1 648.2 1418 600.2 1419 636.1 1420.6 619.4 1422.1 642.4 1422.9 606.5 1424 652.4 1425.5 592.3 1427.1 631.8 1428.4 608.7 1429.4 666.6" fill="none" stroke="#000" stroke-width="4.4" stroke-linejoin="round" stroke-linecap="round"/>
<rect x="778" y="54" width="652.7" height="60" fill="#fff"/>
<path d="M788.4 83.4H851" stroke="#0000ff" stroke-width="4.4" stroke-dasharray="4 4.3" fill="none"/>
<path d="M1101.2 83.5H1163.2" stroke="#000" stroke-width="4.6" fill="none"/>
<g font-family="'Liberation Serif', 'DejaVu Serif', serif" font-size="40" fill="#000">
<text x="856.40" y="97.90" letter-spacing="-0.27">Pre-processing</text>
<text x="1169.00" y="97.90" letter-spacing="-0.22">Post-processing</text>
</g>
<g font-family="'Liberation Serif', 'DejaVu Serif', serif" font-size="40" fill="#262626" stroke="#fff" stroke-width=".35" paint-order="fill stroke">
<text transform="translate(145.30 899.20) scale(1 1.05)" text-anchor="middle" font-size="39.8">0</text>
<text transform="translate(363.62 899.20) scale(1 1.05)" text-anchor="middle" font-size="39.8">2000</text>
<text transform="translate(581.95 899.20) scale(1 1.05)" text-anchor="middle" font-size="39.8">4000</text>
<text transform="translate(800.27 899.20) scale(1 1.05)" text-anchor="middle" font-size="39.8">6000</text>
<text transform="translate(1018.60 899.20) scale(1 1.05)" text-anchor="middle" font-size="39.8">8000</text>
<text transform="translate(1236.92 899.20) scale(1 1.05)" text-anchor="middle" font-size="39.8">10000</text>
<text transform="translate(1455.25 899.20) scale(1 1.05)" text-anchor="middle" font-size="39.8">12000</text>
<text transform="translate(130.40 80.70) scale(1 1.05)" text-anchor="end" letter-spacing="-0.8" font-size="39.8">0.5</text>
<text transform="translate(130.40 266.95) scale(1 1.05)" text-anchor="end" font-size="39.8">0</text>
<text transform="translate(130.40 453.20) scale(1 1.05)" text-anchor="end" letter-spacing="-0.8" font-size="39.8">-0.5</text>
<text transform="translate(130.40 639.45) scale(1 1.05)" text-anchor="end" font-size="39.8">-1</text>
<text transform="translate(130.40 825.70) scale(1 1.05)" text-anchor="end" letter-spacing="-0.8" font-size="39.8">-1.5</text>
<text transform="translate(800.30 947.40) scale(1 1.035)" text-anchor="middle" letter-spacing="-0.22">Sampling Points</text>
<text transform="translate(52.20 438.80) rotate(-90) scale(1 1.035)" text-anchor="middle" letter-spacing="-0.27">Magnetic Strength(nT)</text>
</g>
</svg>
</body></html>
